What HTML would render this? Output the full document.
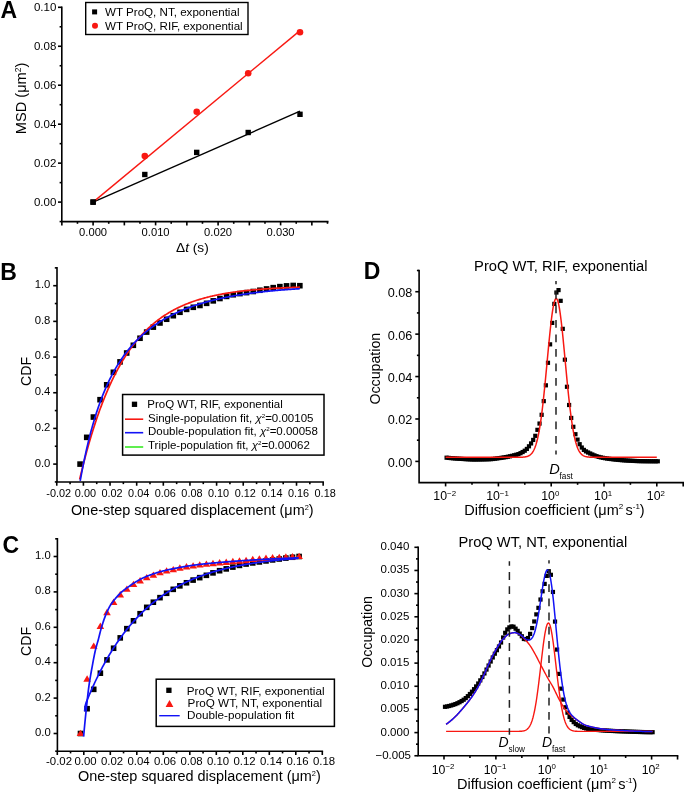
<!DOCTYPE html>
<html><head><meta charset="utf-8"><style>
html,body{margin:0;padding:0;background:#fff;overflow:hidden;}
svg{display:block;filter:blur(0.4px);}
text{font-family:"Liberation Sans", sans-serif;fill:#000;}
</style></head><body>
<svg width="685" height="793" viewBox="0 0 685 793">
<rect width="685" height="793" fill="#fff"/>
<path d="M61.80,7.30 L61.80,221.60 L327.70,221.60" fill="none" stroke="#000" stroke-width="1.6" stroke-linejoin="miter" stroke-linecap="square"/>
<line x1="58.00" y1="202.10" x2="61.80" y2="202.10" stroke="#000" stroke-width="1.6" />
<line x1="58.00" y1="163.14" x2="61.80" y2="163.14" stroke="#000" stroke-width="1.6" />
<line x1="58.00" y1="124.18" x2="61.80" y2="124.18" stroke="#000" stroke-width="1.6" />
<line x1="58.00" y1="85.22" x2="61.80" y2="85.22" stroke="#000" stroke-width="1.6" />
<line x1="58.00" y1="46.26" x2="61.80" y2="46.26" stroke="#000" stroke-width="1.6" />
<line x1="58.00" y1="7.30" x2="61.80" y2="7.30" stroke="#000" stroke-width="1.6" />
<line x1="59.60" y1="221.58" x2="61.80" y2="221.58" stroke="#000" stroke-width="1.6" />
<line x1="59.60" y1="182.62" x2="61.80" y2="182.62" stroke="#000" stroke-width="1.6" />
<line x1="59.60" y1="143.66" x2="61.80" y2="143.66" stroke="#000" stroke-width="1.6" />
<line x1="59.60" y1="104.70" x2="61.80" y2="104.70" stroke="#000" stroke-width="1.6" />
<line x1="59.60" y1="65.74" x2="61.80" y2="65.74" stroke="#000" stroke-width="1.6" />
<line x1="59.60" y1="26.78" x2="61.80" y2="26.78" stroke="#000" stroke-width="1.6" />
<text x="56.30" y="205.50" font-size="11.5" text-anchor="end" >0.00</text>
<text x="56.30" y="166.54" font-size="11.5" text-anchor="end" >0.02</text>
<text x="56.30" y="127.58" font-size="11.5" text-anchor="end" >0.04</text>
<text x="56.30" y="88.62" font-size="11.5" text-anchor="end" >0.06</text>
<text x="56.30" y="49.66" font-size="11.5" text-anchor="end" >0.08</text>
<text x="56.30" y="10.70" font-size="11.5" text-anchor="end" >0.10</text>
<line x1="61.85" y1="221.60" x2="61.85" y2="225.40" stroke="#000" stroke-width="1.6" />
<line x1="93.10" y1="221.60" x2="93.10" y2="225.40" stroke="#000" stroke-width="1.6" />
<line x1="124.35" y1="221.60" x2="124.35" y2="225.40" stroke="#000" stroke-width="1.6" />
<line x1="155.60" y1="221.60" x2="155.60" y2="225.40" stroke="#000" stroke-width="1.6" />
<line x1="186.85" y1="221.60" x2="186.85" y2="225.40" stroke="#000" stroke-width="1.6" />
<line x1="218.10" y1="221.60" x2="218.10" y2="225.40" stroke="#000" stroke-width="1.6" />
<line x1="249.35" y1="221.60" x2="249.35" y2="225.40" stroke="#000" stroke-width="1.6" />
<line x1="280.60" y1="221.60" x2="280.60" y2="225.40" stroke="#000" stroke-width="1.6" />
<line x1="311.85" y1="221.60" x2="311.85" y2="225.40" stroke="#000" stroke-width="1.6" />
<line x1="77.47" y1="221.60" x2="77.47" y2="223.80" stroke="#000" stroke-width="1.6" />
<line x1="108.72" y1="221.60" x2="108.72" y2="223.80" stroke="#000" stroke-width="1.6" />
<line x1="139.97" y1="221.60" x2="139.97" y2="223.80" stroke="#000" stroke-width="1.6" />
<line x1="171.22" y1="221.60" x2="171.22" y2="223.80" stroke="#000" stroke-width="1.6" />
<line x1="202.48" y1="221.60" x2="202.48" y2="223.80" stroke="#000" stroke-width="1.6" />
<line x1="233.73" y1="221.60" x2="233.73" y2="223.80" stroke="#000" stroke-width="1.6" />
<line x1="264.98" y1="221.60" x2="264.98" y2="223.80" stroke="#000" stroke-width="1.6" />
<line x1="296.23" y1="221.60" x2="296.23" y2="223.80" stroke="#000" stroke-width="1.6" />
<line x1="327.48" y1="221.60" x2="327.48" y2="223.80" stroke="#000" stroke-width="1.6" />
<text x="93.10" y="235.70" font-size="11.2" text-anchor="middle" >0.000</text>
<text x="155.60" y="235.70" font-size="11.2" text-anchor="middle" >0.010</text>
<text x="218.10" y="235.70" font-size="11.2" text-anchor="middle" >0.020</text>
<text x="280.60" y="235.70" font-size="11.2" text-anchor="middle" >0.030</text>
<text x="176.00" y="252.20" font-size="13.7" text-anchor="start" >Δ<tspan font-style="italic">t</tspan> (s)</text>
<text transform="translate(26.0,134.2) rotate(-90)" font-size="14.6">MSD (μm<tspan font-size="8.4" dy="-5">2</tspan><tspan dy="5">)</tspan></text>
<path d="M93.10,202.10 L300.00,111.20" fill="none" stroke="#000" stroke-width="1.4" stroke-linejoin="round" />
<path d="M93.10,202.10 L300.00,30.60" fill="none" stroke="#f81812" stroke-width="1.4" stroke-linejoin="round" />
<rect x="90.40" y="199.40" width="5.4" height="5.4" fill="#000"/>
<rect x="142.10" y="171.80" width="5.4" height="5.4" fill="#000"/>
<rect x="194.00" y="149.70" width="5.4" height="5.4" fill="#000"/>
<rect x="245.50" y="129.80" width="5.4" height="5.4" fill="#000"/>
<rect x="297.30" y="111.60" width="5.4" height="5.4" fill="#000"/>
<circle cx="144.80" cy="156.00" r="3.3" fill="#f81812"/>
<circle cx="196.70" cy="111.80" r="3.3" fill="#f81812"/>
<circle cx="248.20" cy="73.30" r="3.3" fill="#f81812"/>
<circle cx="300.00" cy="32.30" r="3.3" fill="#f81812"/>
<rect x="90.40" y="199.40" width="5.4" height="5.4" fill="#000"/>
<rect x="85.7" y="2.5" width="162.3" height="32" fill="#fff" stroke="#000" stroke-width="1.4"/>
<rect x="92.10" y="9.40" width="5.0" height="5.0" fill="#000"/>
<circle cx="95.00" cy="25.70" r="3.0" fill="#f81812"/>
<text x="105.00" y="15.90" font-size="11.6" text-anchor="start" >WT ProQ, NT, exponential</text>
<text x="105.00" y="29.60" font-size="11.6" text-anchor="start" >WT ProQ, RIF, exponential</text>
<text x="0.6" y="17.6" font-size="23" font-weight="bold">A</text>
<path d="M57.00,267.86 L57.00,481.94 L323.16,481.94" fill="none" stroke="#000" stroke-width="1.6" stroke-linejoin="miter" stroke-linecap="square"/>
<line x1="53.20" y1="464.10" x2="57.00" y2="464.10" stroke="#000" stroke-width="1.6" />
<line x1="53.20" y1="428.42" x2="57.00" y2="428.42" stroke="#000" stroke-width="1.6" />
<line x1="53.20" y1="392.74" x2="57.00" y2="392.74" stroke="#000" stroke-width="1.6" />
<line x1="53.20" y1="357.06" x2="57.00" y2="357.06" stroke="#000" stroke-width="1.6" />
<line x1="53.20" y1="321.38" x2="57.00" y2="321.38" stroke="#000" stroke-width="1.6" />
<line x1="53.20" y1="285.70" x2="57.00" y2="285.70" stroke="#000" stroke-width="1.6" />
<line x1="54.80" y1="481.94" x2="57.00" y2="481.94" stroke="#000" stroke-width="1.6" />
<line x1="54.80" y1="446.26" x2="57.00" y2="446.26" stroke="#000" stroke-width="1.6" />
<line x1="54.80" y1="410.58" x2="57.00" y2="410.58" stroke="#000" stroke-width="1.6" />
<line x1="54.80" y1="374.90" x2="57.00" y2="374.90" stroke="#000" stroke-width="1.6" />
<line x1="54.80" y1="339.22" x2="57.00" y2="339.22" stroke="#000" stroke-width="1.6" />
<line x1="54.80" y1="303.54" x2="57.00" y2="303.54" stroke="#000" stroke-width="1.6" />
<line x1="54.80" y1="267.86" x2="57.00" y2="267.86" stroke="#000" stroke-width="1.6" />
<text x="50.40" y="466.50" font-size="11.3" text-anchor="end" >0.0</text>
<text x="50.40" y="430.82" font-size="11.3" text-anchor="end" >0.2</text>
<text x="50.40" y="395.14" font-size="11.3" text-anchor="end" >0.4</text>
<text x="50.40" y="359.46" font-size="11.3" text-anchor="end" >0.6</text>
<text x="50.40" y="323.78" font-size="11.3" text-anchor="end" >0.8</text>
<text x="50.40" y="288.10" font-size="11.3" text-anchor="end" >1.0</text>
<line x1="56.76" y1="481.94" x2="56.76" y2="485.74" stroke="#000" stroke-width="1.6" />
<line x1="83.40" y1="481.94" x2="83.40" y2="485.74" stroke="#000" stroke-width="1.6" />
<line x1="110.04" y1="481.94" x2="110.04" y2="485.74" stroke="#000" stroke-width="1.6" />
<line x1="136.68" y1="481.94" x2="136.68" y2="485.74" stroke="#000" stroke-width="1.6" />
<line x1="163.32" y1="481.94" x2="163.32" y2="485.74" stroke="#000" stroke-width="1.6" />
<line x1="189.96" y1="481.94" x2="189.96" y2="485.74" stroke="#000" stroke-width="1.6" />
<line x1="216.60" y1="481.94" x2="216.60" y2="485.74" stroke="#000" stroke-width="1.6" />
<line x1="243.24" y1="481.94" x2="243.24" y2="485.74" stroke="#000" stroke-width="1.6" />
<line x1="269.88" y1="481.94" x2="269.88" y2="485.74" stroke="#000" stroke-width="1.6" />
<line x1="296.52" y1="481.94" x2="296.52" y2="485.74" stroke="#000" stroke-width="1.6" />
<line x1="323.16" y1="481.94" x2="323.16" y2="485.74" stroke="#000" stroke-width="1.6" />
<line x1="70.08" y1="481.94" x2="70.08" y2="484.14" stroke="#000" stroke-width="1.6" />
<line x1="96.72" y1="481.94" x2="96.72" y2="484.14" stroke="#000" stroke-width="1.6" />
<line x1="123.36" y1="481.94" x2="123.36" y2="484.14" stroke="#000" stroke-width="1.6" />
<line x1="150.00" y1="481.94" x2="150.00" y2="484.14" stroke="#000" stroke-width="1.6" />
<line x1="176.64" y1="481.94" x2="176.64" y2="484.14" stroke="#000" stroke-width="1.6" />
<line x1="203.28" y1="481.94" x2="203.28" y2="484.14" stroke="#000" stroke-width="1.6" />
<line x1="229.92" y1="481.94" x2="229.92" y2="484.14" stroke="#000" stroke-width="1.6" />
<line x1="256.56" y1="481.94" x2="256.56" y2="484.14" stroke="#000" stroke-width="1.6" />
<line x1="283.20" y1="481.94" x2="283.20" y2="484.14" stroke="#000" stroke-width="1.6" />
<line x1="309.84" y1="481.94" x2="309.84" y2="484.14" stroke="#000" stroke-width="1.6" />
<text x="58.76" y="497.24" font-size="10.9" text-anchor="middle" >-0.02</text>
<text x="85.40" y="497.24" font-size="10.9" text-anchor="middle" >0.00</text>
<text x="112.04" y="497.24" font-size="10.9" text-anchor="middle" >0.02</text>
<text x="138.68" y="497.24" font-size="10.9" text-anchor="middle" >0.04</text>
<text x="165.32" y="497.24" font-size="10.9" text-anchor="middle" >0.06</text>
<text x="191.96" y="497.24" font-size="10.9" text-anchor="middle" >0.08</text>
<text x="218.60" y="497.24" font-size="10.9" text-anchor="middle" >0.10</text>
<text x="245.24" y="497.24" font-size="10.9" text-anchor="middle" >0.12</text>
<text x="271.88" y="497.24" font-size="10.9" text-anchor="middle" >0.14</text>
<text x="298.52" y="497.24" font-size="10.9" text-anchor="middle" >0.16</text>
<text x="325.16" y="497.24" font-size="10.9" text-anchor="middle" >0.18</text>
<text x="70.9" y="514.6" font-size="14.45">One-step squared displacement (μm<tspan font-size="7.4" dy="-4.8">2</tspan><tspan dy="4.8">)</tspan></text>
<text transform="translate(31.0,371.40) rotate(-90)" font-size="14.2" text-anchor="middle">CDF</text>
<rect x="77.27" y="461.30" width="5.6" height="5.6" fill="#000"/>
<rect x="83.93" y="434.54" width="5.6" height="5.6" fill="#000"/>
<rect x="90.59" y="414.25" width="5.6" height="5.6" fill="#000"/>
<rect x="97.25" y="396.90" width="5.6" height="5.6" fill="#000"/>
<rect x="103.91" y="382.00" width="5.6" height="5.6" fill="#000"/>
<rect x="110.57" y="369.47" width="5.6" height="5.6" fill="#000"/>
<rect x="117.23" y="359.08" width="5.6" height="5.6" fill="#000"/>
<rect x="123.89" y="350.20" width="5.6" height="5.6" fill="#000"/>
<rect x="130.55" y="342.49" width="5.6" height="5.6" fill="#000"/>
<rect x="137.21" y="335.44" width="5.6" height="5.6" fill="#000"/>
<rect x="143.87" y="329.28" width="5.6" height="5.6" fill="#000"/>
<rect x="150.53" y="324.33" width="5.6" height="5.6" fill="#000"/>
<rect x="157.19" y="320.19" width="5.6" height="5.6" fill="#000"/>
<rect x="163.85" y="316.44" width="5.6" height="5.6" fill="#000"/>
<rect x="170.51" y="312.92" width="5.6" height="5.6" fill="#000"/>
<rect x="177.17" y="309.48" width="5.6" height="5.6" fill="#000"/>
<rect x="183.83" y="306.58" width="5.6" height="5.6" fill="#000"/>
<rect x="190.49" y="304.49" width="5.6" height="5.6" fill="#000"/>
<rect x="197.15" y="302.66" width="5.6" height="5.6" fill="#000"/>
<rect x="203.81" y="300.52" width="5.6" height="5.6" fill="#000"/>
<rect x="210.47" y="298.06" width="5.6" height="5.6" fill="#000"/>
<rect x="217.13" y="295.70" width="5.6" height="5.6" fill="#000"/>
<rect x="223.79" y="293.60" width="5.6" height="5.6" fill="#000"/>
<rect x="230.45" y="291.95" width="5.6" height="5.6" fill="#000"/>
<rect x="237.11" y="290.79" width="5.6" height="5.6" fill="#000"/>
<rect x="243.77" y="289.81" width="5.6" height="5.6" fill="#000"/>
<rect x="250.43" y="288.70" width="5.6" height="5.6" fill="#000"/>
<rect x="257.09" y="287.45" width="5.6" height="5.6" fill="#000"/>
<rect x="263.75" y="286.16" width="5.6" height="5.6" fill="#000"/>
<rect x="270.41" y="284.86" width="5.6" height="5.6" fill="#000"/>
<rect x="277.07" y="283.84" width="5.6" height="5.6" fill="#000"/>
<rect x="283.73" y="283.08" width="5.6" height="5.6" fill="#000"/>
<rect x="290.39" y="282.68" width="5.6" height="5.6" fill="#000"/>
<rect x="297.05" y="282.90" width="5.6" height="5.6" fill="#000"/>
<path d="M79.67,479.41 L80.41,476.29 L81.14,473.22 L81.88,470.19 L82.62,467.22 L83.35,464.29 L84.09,461.41 L84.83,458.57 L85.56,455.79 L86.30,453.04 L87.03,450.34 L87.77,447.69 L88.51,445.08 L89.24,442.50 L89.98,439.98 L90.72,437.49 L91.45,435.04 L92.19,432.63 L92.93,430.26 L93.66,427.93 L94.40,425.64 L95.13,423.38 L95.87,421.16 L96.61,418.97 L97.34,416.82 L98.08,414.71 L98.82,412.63 L99.55,410.58 L100.29,408.57 L101.03,406.58 L101.76,404.64 L102.50,402.72 L103.23,400.83 L103.97,398.97 L104.71,397.15 L105.44,395.35 L106.18,393.58 L106.92,391.84 L107.65,390.13 L108.39,388.44 L109.13,386.79 L109.86,385.16 L110.60,383.55 L111.34,381.97 L112.07,380.42 L112.81,378.89 L113.54,377.39 L114.28,375.91 L115.02,374.46 L115.75,373.03 L116.49,371.62 L117.23,370.23 L117.96,368.87 L118.70,367.53 L119.44,366.21 L120.17,364.91 L120.91,363.63 L121.64,362.37 L122.38,361.14 L123.12,359.92 L123.85,358.72 L124.59,357.55 L125.33,356.39 L126.06,355.25 L126.80,354.12 L127.54,353.02 L128.27,351.94 L129.01,350.87 L129.74,349.82 L130.48,348.78 L131.22,347.76 L131.95,346.76 L132.69,345.78 L133.43,344.81 L134.16,343.86 L134.90,342.92 L135.64,342.00 L136.37,341.09 L137.11,340.19 L137.84,339.32 L138.58,338.45 L139.32,337.60 L140.05,336.76 L140.79,335.94 L141.53,335.13 L142.26,334.33 L143.00,333.55 L143.74,332.78 L144.47,332.02 L145.21,331.27 L145.95,330.53 L146.68,329.81 L147.42,329.10 L148.15,328.40 L148.89,327.71 L149.63,327.03 L150.36,326.37 L151.10,325.71 L151.84,325.07 L152.57,324.43 L153.31,323.81 L154.05,323.19 L154.78,322.59 L155.52,321.99 L156.25,321.41 L156.99,320.83 L157.73,320.26 L158.46,319.71 L159.20,319.16 L159.94,318.62 L160.67,318.09 L161.41,317.57 L162.15,317.05 L162.88,316.55 L163.62,316.05 L164.35,315.56 L165.09,315.08 L165.83,314.60 L166.56,314.14 L167.30,313.68 L168.04,313.23 L168.77,312.78 L169.51,312.35 L170.25,311.92 L170.98,311.49 L171.72,311.08 L172.46,310.67 L173.19,310.27 L173.93,309.87 L174.66,309.48 L175.40,309.10 L176.14,308.72 L176.87,308.35 L177.61,307.98 L178.35,307.62 L179.08,307.27 L179.82,306.92 L180.56,306.58 L181.29,306.24 L182.03,305.91 L182.76,305.59 L183.50,305.26 L184.24,304.95 L184.97,304.64 L185.71,304.33 L186.45,304.03 L187.18,303.74 L187.92,303.45 L188.66,303.16 L189.39,302.88 L190.13,302.60 L190.86,302.33 L191.60,302.06 L192.34,301.80 L193.07,301.54 L193.81,301.28 L194.55,301.03 L195.28,300.78 L196.02,300.54 L196.76,300.30 L197.49,300.06 L198.23,299.83 L198.97,299.60 L199.70,299.38 L200.44,299.16 L201.17,298.94 L201.91,298.73 L202.65,298.52 L203.38,298.31 L204.12,298.11 L204.86,297.91 L205.59,297.71 L206.33,297.52 L207.07,297.33 L207.80,297.14 L208.54,296.96 L209.27,296.77 L210.01,296.60 L210.75,296.42 L211.48,296.25 L212.22,296.08 L212.96,295.91 L213.69,295.74 L214.43,295.58 L215.17,295.42 L215.90,295.27 L216.64,295.11 L217.37,294.96 L218.11,294.81 L218.85,294.66 L219.58,294.52 L220.32,294.38 L221.06,294.24 L221.79,294.10 L222.53,293.96 L223.27,293.83 L224.00,293.70 L224.74,293.57 L225.47,293.44 L226.21,293.32 L226.95,293.20 L227.68,293.08 L228.42,292.96 L229.16,292.84 L229.89,292.72 L230.63,292.61 L231.37,292.50 L232.10,292.39 L232.84,292.28 L233.58,292.18 L234.31,292.07 L235.05,291.97 L235.78,291.87 L236.52,291.77 L237.26,291.67 L237.99,291.57 L238.73,291.48 L239.47,291.39 L240.20,291.29 L240.94,291.20 L241.68,291.11 L242.41,291.03 L243.15,290.94 L243.88,290.86 L244.62,290.77 L245.36,290.69 L246.09,290.61 L246.83,290.53 L247.57,290.45 L248.30,290.38 L249.04,290.30 L249.78,290.23 L250.51,290.16 L251.25,290.08 L251.98,290.01 L252.72,289.94 L253.46,289.87 L254.19,289.81 L254.93,289.74 L255.67,289.68 L256.40,289.61 L257.14,289.55 L257.88,289.49 L258.61,289.43 L259.35,289.37 L260.09,289.31 L260.82,289.25 L261.56,289.19 L262.29,289.13 L263.03,289.08 L263.77,289.02 L264.50,288.97 L265.24,288.92 L265.98,288.87 L266.71,288.82 L267.45,288.77 L268.19,288.72 L268.92,288.67 L269.66,288.62 L270.39,288.57 L271.13,288.53 L271.87,288.48 L272.60,288.44 L273.34,288.39 L274.08,288.35 L274.81,288.31 L275.55,288.26 L276.29,288.22 L277.02,288.18 L277.76,288.14 L278.49,288.10 L279.23,288.06 L279.97,288.02 L280.70,287.99 L281.44,287.95 L282.18,287.91 L282.91,287.88 L283.65,287.84 L284.39,287.81 L285.12,287.77 L285.86,287.74 L286.60,287.71 L287.33,287.68 L288.07,287.64 L288.80,287.61 L289.54,287.58 L290.28,287.55 L291.01,287.52 L291.75,287.49 L292.49,287.46 L293.22,287.43 L293.96,287.41 L294.70,287.38 L295.43,287.35 L296.17,287.33 L296.90,287.30 L297.64,287.27 L298.38,287.25 L299.11,287.22 L299.85,287.20" fill="none" stroke="#f81812" stroke-width="1.7" stroke-linejoin="round" />
<path d="M80.20,480.90 L80.94,476.85 L81.67,472.92 L82.41,469.10 L83.14,465.38 L83.88,461.77 L84.61,458.25 L85.35,454.84 L86.08,451.51 L86.81,448.27 L87.55,445.12 L88.28,442.05 L89.02,439.07 L89.75,436.16 L90.49,433.33 L91.22,430.57 L91.96,427.88 L92.69,425.26 L93.43,422.70 L94.16,420.22 L94.90,417.79 L95.63,415.42 L96.36,413.11 L97.10,410.86 L97.83,408.66 L98.57,406.52 L99.30,404.42 L100.04,402.38 L100.77,400.39 L101.51,398.44 L102.24,396.53 L102.98,394.67 L103.71,392.86 L104.45,391.08 L105.18,389.35 L105.91,387.65 L106.65,385.99 L107.38,384.37 L108.12,382.78 L108.85,381.23 L109.59,379.71 L110.32,378.23 L111.06,376.77 L111.79,375.35 L112.53,373.95 L113.26,372.59 L114.00,371.25 L114.73,369.94 L115.46,368.66 L116.20,367.40 L116.93,366.17 L117.67,364.96 L118.40,363.78 L119.14,362.62 L119.87,361.48 L120.61,360.36 L121.34,359.27 L122.08,358.19 L122.81,357.14 L123.54,356.10 L124.28,355.09 L125.01,354.09 L125.75,353.11 L126.48,352.15 L127.22,351.21 L127.95,350.29 L128.69,349.38 L129.42,348.48 L130.16,347.60 L130.89,346.74 L131.63,345.89 L132.36,345.06 L133.09,344.24 L133.83,343.44 L134.56,342.65 L135.30,341.87 L136.03,341.10 L136.77,340.35 L137.50,339.61 L138.24,338.88 L138.97,338.17 L139.71,337.46 L140.44,336.77 L141.18,336.08 L141.91,335.41 L142.64,334.75 L143.38,334.10 L144.11,333.46 L144.85,332.83 L145.58,332.21 L146.32,331.60 L147.05,331.00 L147.79,330.40 L148.52,329.82 L149.26,329.24 L149.99,328.68 L150.73,328.12 L151.46,327.57 L152.19,327.03 L152.93,326.49 L153.66,325.97 L154.40,325.45 L155.13,324.94 L155.87,324.43 L156.60,323.94 L157.34,323.45 L158.07,322.97 L158.81,322.49 L159.54,322.02 L160.28,321.56 L161.01,321.10 L161.74,320.65 L162.48,320.21 L163.21,319.77 L163.95,319.34 L164.68,318.92 L165.42,318.50 L166.15,318.08 L166.89,317.68 L167.62,317.27 L168.36,316.88 L169.09,316.48 L169.82,316.10 L170.56,315.72 L171.29,315.34 L172.03,314.97 L172.76,314.60 L173.50,314.24 L174.23,313.88 L174.97,313.53 L175.70,313.18 L176.44,312.84 L177.17,312.50 L177.91,312.17 L178.64,311.84 L179.37,311.51 L180.11,311.19 L180.84,310.87 L181.58,310.56 L182.31,310.25 L183.05,309.94 L183.78,309.64 L184.52,309.35 L185.25,309.05 L185.99,308.76 L186.72,308.48 L187.46,308.19 L188.19,307.91 L188.92,307.64 L189.66,307.37 L190.39,307.10 L191.13,306.83 L191.86,306.57 L192.60,306.31 L193.33,306.05 L194.07,305.80 L194.80,305.55 L195.54,305.31 L196.27,305.06 L197.01,304.82 L197.74,304.59 L198.47,304.35 L199.21,304.12 L199.94,303.89 L200.68,303.67 L201.41,303.44 L202.15,303.22 L202.88,303.01 L203.62,302.79 L204.35,302.58 L205.09,302.37 L205.82,302.16 L206.56,301.96 L207.29,301.76 L208.02,301.56 L208.76,301.36 L209.49,301.16 L210.23,300.97 L210.96,300.78 L211.70,300.59 L212.43,300.41 L213.17,300.22 L213.90,300.04 L214.64,299.87 L215.37,299.69 L216.11,299.51 L216.84,299.34 L217.57,299.17 L218.31,299.00 L219.04,298.84 L219.78,298.67 L220.51,298.51 L221.25,298.35 L221.98,298.19 L222.72,298.03 L223.45,297.88 L224.19,297.73 L224.92,297.58 L225.65,297.43 L226.39,297.28 L227.12,297.13 L227.86,296.99 L228.59,296.85 L229.33,296.71 L230.06,296.57 L230.80,296.43 L231.53,296.29 L232.27,296.16 L233.00,296.03 L233.74,295.90 L234.47,295.77 L235.20,295.64 L235.94,295.51 L236.67,295.39 L237.41,295.27 L238.14,295.15 L238.88,295.02 L239.61,294.91 L240.35,294.79 L241.08,294.67 L241.82,294.56 L242.55,294.44 L243.29,294.33 L244.02,294.22 L244.75,294.11 L245.49,294.00 L246.22,293.90 L246.96,293.79 L247.69,293.69 L248.43,293.59 L249.16,293.48 L249.90,293.38 L250.63,293.28 L251.37,293.19 L252.10,293.09 L252.84,292.99 L253.57,292.90 L254.30,292.80 L255.04,292.71 L255.77,292.62 L256.51,292.53 L257.24,292.44 L257.98,292.35 L258.71,292.26 L259.45,292.18 L260.18,292.09 L260.92,292.01 L261.65,291.93 L262.39,291.84 L263.12,291.76 L263.85,291.68 L264.59,291.60 L265.32,291.52 L266.06,291.45 L266.79,291.37 L267.53,291.29 L268.26,291.22 L269.00,291.15 L269.73,291.07 L270.47,291.00 L271.20,290.93 L271.94,290.86 L272.67,290.79 L273.40,290.72 L274.14,290.65 L274.87,290.59 L275.61,290.52 L276.34,290.45 L277.08,290.39 L277.81,290.32 L278.55,290.26 L279.28,290.20 L280.02,290.14 L280.75,290.08 L281.48,290.01 L282.22,289.96 L282.95,289.90 L283.69,289.84 L284.42,289.78 L285.16,289.72 L285.89,289.67 L286.63,289.61 L287.36,289.56 L288.10,289.50 L288.83,289.45 L289.57,289.40 L290.30,289.34 L291.03,289.29 L291.77,289.24 L292.50,289.19 L293.24,289.14 L293.97,289.09 L294.71,289.04 L295.44,288.99 L296.18,288.95 L296.91,288.90 L297.65,288.85 L298.38,288.81 L299.12,288.76 L299.85,288.71" fill="none" stroke="#1212f6" stroke-width="1.7" stroke-linejoin="round" />
<rect x="122.6" y="394.5" width="201.4" height="60.6" fill="#fff" stroke="#000" stroke-width="1.5"/>
<rect x="131.85" y="401.65" width="5.3" height="5.3" fill="#000"/>
<line x1="125.00" y1="419.20" x2="143.20" y2="419.20" stroke="#f81812" stroke-width="1.6" />
<line x1="125.00" y1="432.70" x2="143.20" y2="432.70" stroke="#1212f6" stroke-width="1.6" />
<line x1="125.00" y1="447.00" x2="143.20" y2="447.00" stroke="#38ea24" stroke-width="1.6" />
<text x="147.30" y="408.00" font-size="11.5" text-anchor="start" >ProQ WT, RIF, exponential</text>
<text x="148.00" y="421.50" font-size="11.5" text-anchor="start" >Single-population fit, <tspan font-style="italic">χ</tspan><tspan font-size="6.2" dy="-3.6">2</tspan><tspan dy="3.6">=0.00105</tspan></text>
<text x="148.00" y="435.00" font-size="11.5" text-anchor="start" >Double-population fit, <tspan font-style="italic">χ</tspan><tspan font-size="6.2" dy="-3.6">2</tspan><tspan dy="3.6">=0.00058</tspan></text>
<text x="148.00" y="448.80" font-size="11.5" text-anchor="start" >Triple-population fit, <tspan font-style="italic">χ</tspan><tspan font-size="6.2" dy="-3.6">2</tspan><tspan dy="3.6">=0.00062</tspan></text>
<text x="0.2" y="280.3" font-size="23" font-weight="bold">B</text>
<path d="M57.40,538.80 L57.40,751.20 L322.30,751.20" fill="none" stroke="#000" stroke-width="1.6" stroke-linejoin="miter" stroke-linecap="square"/>
<line x1="53.60" y1="733.50" x2="57.40" y2="733.50" stroke="#000" stroke-width="1.6" />
<line x1="53.60" y1="698.10" x2="57.40" y2="698.10" stroke="#000" stroke-width="1.6" />
<line x1="53.60" y1="662.70" x2="57.40" y2="662.70" stroke="#000" stroke-width="1.6" />
<line x1="53.60" y1="627.30" x2="57.40" y2="627.30" stroke="#000" stroke-width="1.6" />
<line x1="53.60" y1="591.90" x2="57.40" y2="591.90" stroke="#000" stroke-width="1.6" />
<line x1="53.60" y1="556.50" x2="57.40" y2="556.50" stroke="#000" stroke-width="1.6" />
<line x1="55.20" y1="751.20" x2="57.40" y2="751.20" stroke="#000" stroke-width="1.6" />
<line x1="55.20" y1="715.80" x2="57.40" y2="715.80" stroke="#000" stroke-width="1.6" />
<line x1="55.20" y1="680.40" x2="57.40" y2="680.40" stroke="#000" stroke-width="1.6" />
<line x1="55.20" y1="645.00" x2="57.40" y2="645.00" stroke="#000" stroke-width="1.6" />
<line x1="55.20" y1="609.60" x2="57.40" y2="609.60" stroke="#000" stroke-width="1.6" />
<line x1="55.20" y1="574.20" x2="57.40" y2="574.20" stroke="#000" stroke-width="1.6" />
<line x1="55.20" y1="538.80" x2="57.40" y2="538.80" stroke="#000" stroke-width="1.6" />
<text x="50.80" y="735.90" font-size="11.3" text-anchor="end" >0.0</text>
<text x="50.80" y="700.50" font-size="11.3" text-anchor="end" >0.2</text>
<text x="50.80" y="665.10" font-size="11.3" text-anchor="end" >0.4</text>
<text x="50.80" y="629.70" font-size="11.3" text-anchor="end" >0.6</text>
<text x="50.80" y="594.30" font-size="11.3" text-anchor="end" >0.8</text>
<text x="50.80" y="558.90" font-size="11.3" text-anchor="end" >1.0</text>
<line x1="57.30" y1="751.20" x2="57.30" y2="755.00" stroke="#000" stroke-width="1.6" />
<line x1="83.80" y1="751.20" x2="83.80" y2="755.00" stroke="#000" stroke-width="1.6" />
<line x1="110.30" y1="751.20" x2="110.30" y2="755.00" stroke="#000" stroke-width="1.6" />
<line x1="136.80" y1="751.20" x2="136.80" y2="755.00" stroke="#000" stroke-width="1.6" />
<line x1="163.30" y1="751.20" x2="163.30" y2="755.00" stroke="#000" stroke-width="1.6" />
<line x1="189.80" y1="751.20" x2="189.80" y2="755.00" stroke="#000" stroke-width="1.6" />
<line x1="216.30" y1="751.20" x2="216.30" y2="755.00" stroke="#000" stroke-width="1.6" />
<line x1="242.80" y1="751.20" x2="242.80" y2="755.00" stroke="#000" stroke-width="1.6" />
<line x1="269.30" y1="751.20" x2="269.30" y2="755.00" stroke="#000" stroke-width="1.6" />
<line x1="295.80" y1="751.20" x2="295.80" y2="755.00" stroke="#000" stroke-width="1.6" />
<line x1="322.30" y1="751.20" x2="322.30" y2="755.00" stroke="#000" stroke-width="1.6" />
<line x1="70.55" y1="751.20" x2="70.55" y2="753.40" stroke="#000" stroke-width="1.6" />
<line x1="97.05" y1="751.20" x2="97.05" y2="753.40" stroke="#000" stroke-width="1.6" />
<line x1="123.55" y1="751.20" x2="123.55" y2="753.40" stroke="#000" stroke-width="1.6" />
<line x1="150.05" y1="751.20" x2="150.05" y2="753.40" stroke="#000" stroke-width="1.6" />
<line x1="176.55" y1="751.20" x2="176.55" y2="753.40" stroke="#000" stroke-width="1.6" />
<line x1="203.05" y1="751.20" x2="203.05" y2="753.40" stroke="#000" stroke-width="1.6" />
<line x1="229.55" y1="751.20" x2="229.55" y2="753.40" stroke="#000" stroke-width="1.6" />
<line x1="256.05" y1="751.20" x2="256.05" y2="753.40" stroke="#000" stroke-width="1.6" />
<line x1="282.55" y1="751.20" x2="282.55" y2="753.40" stroke="#000" stroke-width="1.6" />
<line x1="309.05" y1="751.20" x2="309.05" y2="753.40" stroke="#000" stroke-width="1.6" />
<text x="59.00" y="765.40" font-size="11.4" text-anchor="middle" >-0.02</text>
<text x="85.50" y="765.40" font-size="11.4" text-anchor="middle" >0.00</text>
<text x="112.00" y="765.40" font-size="11.4" text-anchor="middle" >0.02</text>
<text x="138.50" y="765.40" font-size="11.4" text-anchor="middle" >0.04</text>
<text x="165.00" y="765.40" font-size="11.4" text-anchor="middle" >0.06</text>
<text x="191.50" y="765.40" font-size="11.4" text-anchor="middle" >0.08</text>
<text x="218.00" y="765.40" font-size="11.4" text-anchor="middle" >0.10</text>
<text x="244.50" y="765.40" font-size="11.4" text-anchor="middle" >0.12</text>
<text x="271.00" y="765.40" font-size="11.4" text-anchor="middle" >0.14</text>
<text x="297.50" y="765.40" font-size="11.4" text-anchor="middle" >0.16</text>
<text x="324.00" y="765.40" font-size="11.4" text-anchor="middle" >0.18</text>
<text x="78.0" y="780.7" font-size="14.45">One-step squared displacement (μm<tspan font-size="7.4" dy="-4.8">2</tspan><tspan dy="4.8">)</tspan></text>
<text transform="translate(30.5,641.50) rotate(-90)" font-size="14.2" text-anchor="middle">CDF</text>
<rect x="77.69" y="730.70" width="5.6" height="5.6" fill="#000"/>
<rect x="84.31" y="705.92" width="5.6" height="5.6" fill="#000"/>
<rect x="90.94" y="686.54" width="5.6" height="5.6" fill="#000"/>
<rect x="97.56" y="670.39" width="5.6" height="5.6" fill="#000"/>
<rect x="104.19" y="657.07" width="5.6" height="5.6" fill="#000"/>
<rect x="110.81" y="645.43" width="5.6" height="5.6" fill="#000"/>
<rect x="117.44" y="635.08" width="5.6" height="5.6" fill="#000"/>
<rect x="124.06" y="625.87" width="5.6" height="5.6" fill="#000"/>
<rect x="130.69" y="618.00" width="5.6" height="5.6" fill="#000"/>
<rect x="137.31" y="610.92" width="5.6" height="5.6" fill="#000"/>
<rect x="143.94" y="604.54" width="5.6" height="5.6" fill="#000"/>
<rect x="150.56" y="599.41" width="5.6" height="5.6" fill="#000"/>
<rect x="157.19" y="594.85" width="5.6" height="5.6" fill="#000"/>
<rect x="163.81" y="590.47" width="5.6" height="5.6" fill="#000"/>
<rect x="170.44" y="586.53" width="5.6" height="5.6" fill="#000"/>
<rect x="177.06" y="583.04" width="5.6" height="5.6" fill="#000"/>
<rect x="183.69" y="579.98" width="5.6" height="5.6" fill="#000"/>
<rect x="190.31" y="577.29" width="5.6" height="5.6" fill="#000"/>
<rect x="196.94" y="574.85" width="5.6" height="5.6" fill="#000"/>
<rect x="203.56" y="572.51" width="5.6" height="5.6" fill="#000"/>
<rect x="210.19" y="570.07" width="5.6" height="5.6" fill="#000"/>
<rect x="216.81" y="567.90" width="5.6" height="5.6" fill="#000"/>
<rect x="223.44" y="566.09" width="5.6" height="5.6" fill="#000"/>
<rect x="230.06" y="564.28" width="5.6" height="5.6" fill="#000"/>
<rect x="236.69" y="562.59" width="5.6" height="5.6" fill="#000"/>
<rect x="243.31" y="561.22" width="5.6" height="5.6" fill="#000"/>
<rect x="249.94" y="560.12" width="5.6" height="5.6" fill="#000"/>
<rect x="256.56" y="559.14" width="5.6" height="5.6" fill="#000"/>
<rect x="263.19" y="558.12" width="5.6" height="5.6" fill="#000"/>
<rect x="269.81" y="557.11" width="5.6" height="5.6" fill="#000"/>
<rect x="276.44" y="556.18" width="5.6" height="5.6" fill="#000"/>
<rect x="283.06" y="555.29" width="5.6" height="5.6" fill="#000"/>
<rect x="289.69" y="554.45" width="5.6" height="5.6" fill="#000"/>
<rect x="296.31" y="553.70" width="5.6" height="5.6" fill="#000"/>
<path d="M80.49,729.66 L84.29,736.06 L76.69,736.06 Z" fill="#f81812"/>
<path d="M87.11,675.32 L90.91,681.72 L83.31,681.72 Z" fill="#f81812"/>
<path d="M93.74,642.40 L97.54,648.80 L89.94,648.80 Z" fill="#f81812"/>
<path d="M100.36,622.57 L104.16,628.97 L96.56,628.97 Z" fill="#f81812"/>
<path d="M106.99,608.77 L110.79,615.17 L103.19,615.17 Z" fill="#f81812"/>
<path d="M113.61,598.50 L117.41,604.90 L109.81,604.90 Z" fill="#f81812"/>
<path d="M120.24,591.07 L124.04,597.47 L116.44,597.47 Z" fill="#f81812"/>
<path d="M126.86,585.40 L130.66,591.80 L123.06,591.80 Z" fill="#f81812"/>
<path d="M133.49,580.63 L137.29,587.03 L129.69,587.03 Z" fill="#f81812"/>
<path d="M140.11,577.09 L143.91,583.49 L136.31,583.49 Z" fill="#f81812"/>
<path d="M146.74,573.90 L150.54,580.30 L142.94,580.30 Z" fill="#f81812"/>
<path d="M153.36,571.42 L157.16,577.82 L149.56,577.82 Z" fill="#f81812"/>
<path d="M159.99,568.94 L163.79,575.34 L156.19,575.34 Z" fill="#f81812"/>
<path d="M166.61,567.17 L170.41,573.57 L162.81,573.57 Z" fill="#f81812"/>
<path d="M173.24,565.93 L177.04,572.33 L169.44,572.33 Z" fill="#f81812"/>
<path d="M179.86,564.34 L183.66,570.74 L176.06,570.74 Z" fill="#f81812"/>
<path d="M186.49,563.10 L190.29,569.50 L182.69,569.50 Z" fill="#f81812"/>
<path d="M193.11,562.22 L196.91,568.62 L189.31,568.62 Z" fill="#f81812"/>
<path d="M199.74,561.16 L203.54,567.56 L195.94,567.56 Z" fill="#f81812"/>
<path d="M206.36,560.45 L210.16,566.85 L202.56,566.85 Z" fill="#f81812"/>
<path d="M212.99,559.74 L216.79,566.14 L209.19,566.14 Z" fill="#f81812"/>
<path d="M219.61,559.03 L223.41,565.43 L215.81,565.43 Z" fill="#f81812"/>
<path d="M226.24,558.50 L230.04,564.90 L222.44,564.90 Z" fill="#f81812"/>
<path d="M232.86,557.79 L236.66,564.19 L229.06,564.19 Z" fill="#f81812"/>
<path d="M239.49,557.26 L243.29,563.66 L235.69,563.66 Z" fill="#f81812"/>
<path d="M246.11,556.73 L249.91,563.13 L242.31,563.13 Z" fill="#f81812"/>
<path d="M252.74,555.67 L256.54,562.07 L248.94,562.07 Z" fill="#f81812"/>
<path d="M259.36,555.14 L263.16,561.54 L255.56,561.54 Z" fill="#f81812"/>
<path d="M265.99,554.61 L269.79,561.01 L262.19,561.01 Z" fill="#f81812"/>
<path d="M272.61,554.08 L276.41,560.48 L268.81,560.48 Z" fill="#f81812"/>
<path d="M279.24,553.72 L283.04,560.12 L275.44,560.12 Z" fill="#f81812"/>
<path d="M285.86,553.37 L289.66,559.77 L282.06,559.77 Z" fill="#f81812"/>
<path d="M292.49,553.01 L296.29,559.41 L288.69,559.41 Z" fill="#f81812"/>
<path d="M299.11,552.66 L302.91,559.06 L295.31,559.06 Z" fill="#f81812"/>
<path d="M83.60,736.60 L84.14,730.74 L84.68,725.03 L85.22,719.50 L85.76,714.17 L86.30,709.00 L86.84,703.88 L87.38,698.88 L87.91,694.11 L88.45,689.66 L88.99,685.63 L89.53,681.96 L90.07,678.55 L90.61,675.33 L91.15,672.25 L91.69,669.26 L92.23,666.29 L92.77,663.33 L93.31,660.41 L93.85,657.57 L94.39,654.85 L94.93,652.27 L95.47,649.87 L96.01,647.69 L96.54,645.72 L97.08,643.87 L97.62,642.05 L98.16,640.17 L98.70,638.15 L99.24,635.99 L99.78,633.80 L100.32,631.64 L100.86,629.60 L101.40,627.72 L101.94,625.90 L102.48,624.15 L103.02,622.47 L103.56,620.86 L104.10,619.31 L104.63,617.84 L105.17,616.42 L105.71,615.06 L106.25,613.76 L106.79,612.50 L107.33,611.28 L107.87,610.09 L108.41,608.93 L108.95,607.82 L109.49,606.78 L110.03,605.82 L110.57,604.94 L111.11,604.13 L111.65,603.35 L112.19,602.62 L112.72,601.91 L113.26,601.21 L113.80,600.52 L114.34,599.84 L114.88,599.17 L115.42,598.51 L115.96,597.87 L116.50,597.24 L117.04,596.63 L117.58,596.03 L118.12,595.45 L118.66,594.88 L119.20,594.32 L119.74,593.77 L120.28,593.24 L120.82,592.73 L121.35,592.23 L121.89,591.75 L122.43,591.29 L122.97,590.84 L123.51,590.41 L124.05,589.98 L124.59,589.56 L125.13,589.15 L125.67,588.75 L126.21,588.36 L126.75,587.97 L127.29,587.59 L127.83,587.22 L128.37,586.84 L128.91,586.47 L129.44,586.08 L129.98,585.70 L130.52,585.31 L131.06,584.92 L131.60,584.53 L132.14,584.16 L132.68,583.79 L133.22,583.44 L133.76,583.10 L134.30,582.77 L134.84,582.45 L135.38,582.13 L135.92,581.81 L136.46,581.49 L137.00,581.18 L137.53,580.87 L138.07,580.57 L138.61,580.27 L139.15,579.97 L139.69,579.68 L140.23,579.39 L140.77,579.11 L141.31,578.83 L141.85,578.56 L142.39,578.29 L142.93,578.03 L143.47,577.77 L144.01,577.52 L144.55,577.27 L145.09,577.03 L145.63,576.80 L146.16,576.57 L146.70,576.35 L147.24,576.13 L147.78,575.91 L148.32,575.70 L148.86,575.49 L149.40,575.28 L149.94,575.08 L150.48,574.87 L151.02,574.68 L151.56,574.48 L152.10,574.29 L152.64,574.10 L153.18,573.91 L153.72,573.73 L154.25,573.55 L154.79,573.37 L155.33,573.19 L155.87,573.02 L156.41,572.85 L156.95,572.68 L157.49,572.52 L158.03,572.36 L158.57,572.20 L159.11,572.04 L159.65,571.89 L160.19,571.74 L160.73,571.59 L161.27,571.45 L161.81,571.30 L162.34,571.16 L162.88,571.02 L163.42,570.89 L163.96,570.75 L164.50,570.62 L165.04,570.49 L165.58,570.36 L166.12,570.23 L166.66,570.11 L167.20,569.99 L167.74,569.87 L168.28,569.75 L168.82,569.63 L169.36,569.51 L169.90,569.39 L170.44,569.28 L170.97,569.17 L171.51,569.06 L172.05,568.94 L172.59,568.84 L173.13,568.73 L173.67,568.62 L174.21,568.51 L174.75,568.41 L175.29,568.30 L175.83,568.20 L176.37,568.09 L176.91,567.99 L177.45,567.89 L177.99,567.78 L178.53,567.68 L179.06,567.58 L179.60,567.48 L180.14,567.38 L180.68,567.28 L181.22,567.18 L181.76,567.08 L182.30,566.98 L182.84,566.89 L183.38,566.79 L183.92,566.70 L184.46,566.60 L185.00,566.51 L185.54,566.42 L186.08,566.33 L186.62,566.24 L187.15,566.15 L187.69,566.06 L188.23,565.97 L188.77,565.89 L189.31,565.80 L189.85,565.72 L190.39,565.64 L190.93,565.56 L191.47,565.48 L192.01,565.40 L192.55,565.33 L193.09,565.25 L193.63,565.18 L194.17,565.11 L194.71,565.04 L195.25,564.97 L195.78,564.90 L196.32,564.84 L196.86,564.77 L197.40,564.70 L197.94,564.64 L198.48,564.57 L199.02,564.51 L199.56,564.45 L200.10,564.38 L200.64,564.32 L201.18,564.26 L201.72,564.20 L202.26,564.14 L202.80,564.08 L203.34,564.02 L203.87,563.96 L204.41,563.91 L204.95,563.85 L205.49,563.79 L206.03,563.73 L206.57,563.68 L207.11,563.62 L207.65,563.57 L208.19,563.51 L208.73,563.46 L209.27,563.40 L209.81,563.35 L210.35,563.30 L210.89,563.25 L211.43,563.19 L211.96,563.14 L212.50,563.09 L213.04,563.04 L213.58,562.99 L214.12,562.94 L214.66,562.89 L215.20,562.84 L215.74,562.79 L216.28,562.74 L216.82,562.69 L217.36,562.65 L217.90,562.60 L218.44,562.55 L218.98,562.51 L219.52,562.46 L220.06,562.41 L220.59,562.37 L221.13,562.32 L221.67,562.27 L222.21,562.23 L222.75,562.18 L223.29,562.14 L223.83,562.09 L224.37,562.05 L224.91,562.01 L225.45,561.96 L225.99,561.92 L226.53,561.88 L227.07,561.83 L227.61,561.79 L228.15,561.75 L228.68,561.70 L229.22,561.66 L229.76,561.62 L230.30,561.58 L230.84,561.53 L231.38,561.49 L231.92,561.45 L232.46,561.41 L233.00,561.37 L233.54,561.33 L234.08,561.29 L234.62,561.25 L235.16,561.21 L235.70,561.17 L236.24,561.13 L236.77,561.09 L237.31,561.05 L237.85,561.01 L238.39,560.97 L238.93,560.93 L239.47,560.89 L240.01,560.85 L240.55,560.81 L241.09,560.77 L241.63,560.74 L242.17,560.70 L242.71,560.66 L243.25,560.62 L243.79,560.59 L244.33,560.55 L244.87,560.51 L245.40,560.48 L245.94,560.44 L246.48,560.41 L247.02,560.37 L247.56,560.33 L248.10,560.30 L248.64,560.26 L249.18,560.23 L249.72,560.19 L250.26,560.16 L250.80,560.13 L251.34,560.09 L251.88,560.06 L252.42,560.02 L252.96,559.99 L253.49,559.96 L254.03,559.92 L254.57,559.89 L255.11,559.86 L255.65,559.83 L256.19,559.79 L256.73,559.76 L257.27,559.73 L257.81,559.70 L258.35,559.67 L258.89,559.64 L259.43,559.61 L259.97,559.58 L260.51,559.55 L261.05,559.52 L261.58,559.49 L262.12,559.46 L262.66,559.43 L263.20,559.40 L263.74,559.37 L264.28,559.34 L264.82,559.31 L265.36,559.28 L265.90,559.25 L266.44,559.22 L266.98,559.20 L267.52,559.17 L268.06,559.14 L268.60,559.11 L269.14,559.08 L269.68,559.06 L270.21,559.03 L270.75,559.00 L271.29,558.98 L271.83,558.95 L272.37,558.92 L272.91,558.89 L273.45,558.87 L273.99,558.84 L274.53,558.81 L275.07,558.79 L275.61,558.76 L276.15,558.74 L276.69,558.71 L277.23,558.69 L277.77,558.66 L278.30,558.63 L278.84,558.61 L279.38,558.58 L279.92,558.56 L280.46,558.53 L281.00,558.51 L281.54,558.49 L282.08,558.46 L282.62,558.44 L283.16,558.41 L283.70,558.39 L284.24,558.37 L284.78,558.34 L285.32,558.32 L285.86,558.30 L286.39,558.27 L286.93,558.25 L287.47,558.23 L288.01,558.21 L288.55,558.18 L289.09,558.16 L289.63,558.14 L290.17,558.12 L290.71,558.10 L291.25,558.08 L291.79,558.06 L292.33,558.03 L292.87,558.01 L293.41,557.99 L293.95,557.97 L294.49,557.95 L295.02,557.93 L295.56,557.91 L296.10,557.89 L296.64,557.87 L297.18,557.86 L297.72,557.84 L298.26,557.82 L298.80,557.80" fill="none" stroke="#1212f6" stroke-width="1.7" stroke-linejoin="round" />
<path d="M84.59,711.43 L85.31,705.44 L86.02,702.92 L86.73,701.03 L87.45,699.28 L88.16,697.56 L88.87,695.86 L89.59,694.19 L90.30,692.54 L91.01,690.90 L91.73,689.29 L92.44,687.69 L93.15,686.11 L93.86,684.55 L94.58,683.01 L95.29,681.49 L96.00,679.99 L96.72,678.50 L97.43,677.03 L98.14,675.58 L98.86,674.15 L99.57,672.73 L100.28,671.33 L100.99,669.94 L101.71,668.57 L102.42,667.22 L103.13,665.89 L103.85,664.57 L104.56,663.26 L105.27,661.97 L105.99,660.70 L106.70,659.44 L107.41,658.20 L108.12,656.97 L108.84,655.75 L109.55,654.55 L110.26,653.36 L110.98,652.19 L111.69,651.03 L112.40,649.89 L113.12,648.76 L113.83,647.64 L114.54,646.53 L115.25,645.44 L115.97,644.36 L116.68,643.30 L117.39,642.24 L118.11,641.20 L118.82,640.17 L119.53,639.16 L120.25,638.15 L120.96,637.16 L121.67,636.18 L122.38,635.21 L123.10,634.25 L123.81,633.30 L124.52,632.37 L125.24,631.44 L125.95,630.53 L126.66,629.63 L127.38,628.74 L128.09,627.85 L128.80,626.98 L129.52,626.12 L130.23,625.27 L130.94,624.43 L131.65,623.60 L132.37,622.78 L133.08,621.97 L133.79,621.16 L134.51,620.37 L135.22,619.59 L135.93,618.82 L136.65,618.05 L137.36,617.30 L138.07,616.55 L138.78,615.81 L139.50,615.08 L140.21,614.36 L140.92,613.65 L141.64,612.95 L142.35,612.25 L143.06,611.56 L143.78,610.88 L144.49,610.21 L145.20,609.55 L145.91,608.89 L146.63,608.25 L147.34,607.61 L148.05,606.97 L148.77,606.35 L149.48,605.73 L150.19,605.12 L150.91,604.52 L151.62,603.92 L152.33,603.33 L153.04,602.75 L153.76,602.18 L154.47,601.61 L155.18,601.05 L155.90,600.49 L156.61,599.94 L157.32,599.40 L158.04,598.87 L158.75,598.34 L159.46,597.81 L160.17,597.30 L160.89,596.79 L161.60,596.28 L162.31,595.78 L163.03,595.29 L163.74,594.80 L164.45,594.32 L165.17,593.85 L165.88,593.38 L166.59,592.91 L167.31,592.45 L168.02,592.00 L168.73,591.55 L169.44,591.11 L170.16,590.67 L170.87,590.24 L171.58,589.81 L172.30,589.39 L173.01,588.97 L173.72,588.56 L174.44,588.15 L175.15,587.75 L175.86,587.35 L176.57,586.96 L177.29,586.57 L178.00,586.18 L178.71,585.80 L179.43,585.43 L180.14,585.06 L180.85,584.69 L181.57,584.33 L182.28,583.97 L182.99,583.62 L183.70,583.27 L184.42,582.93 L185.13,582.58 L185.84,582.25 L186.56,581.91 L187.27,581.58 L187.98,581.26 L188.70,580.94 L189.41,580.62 L190.12,580.31 L190.83,580.00 L191.55,579.69 L192.26,579.39 L192.97,579.09 L193.69,578.79 L194.40,578.50 L195.11,578.21 L195.83,577.93 L196.54,577.64 L197.25,577.36 L197.96,577.09 L198.68,576.82 L199.39,576.55 L200.10,576.28 L200.82,576.02 L201.53,575.76 L202.24,575.50 L202.96,575.25 L203.67,575.00 L204.38,574.75 L205.10,574.51 L205.81,574.27 L206.52,574.03 L207.23,573.79 L207.95,573.56 L208.66,573.33 L209.37,573.10 L210.09,572.87 L210.80,572.65 L211.51,572.43 L212.23,572.21 L212.94,572.00 L213.65,571.79 L214.36,571.58 L215.08,571.37 L215.79,571.17 L216.50,570.96 L217.22,570.76 L217.93,570.57 L218.64,570.37 L219.36,570.18 L220.07,569.99 L220.78,569.80 L221.49,569.61 L222.21,569.43 L222.92,569.25 L223.63,569.07 L224.35,568.89 L225.06,568.71 L225.77,568.54 L226.49,568.37 L227.20,568.20 L227.91,568.03 L228.62,567.87 L229.34,567.70 L230.05,567.54 L230.76,567.38 L231.48,567.23 L232.19,567.07 L232.90,566.92 L233.62,566.76 L234.33,566.61 L235.04,566.46 L235.75,566.32 L236.47,566.17 L237.18,566.03 L237.89,565.89 L238.61,565.75 L239.32,565.61 L240.03,565.47 L240.75,565.34 L241.46,565.20 L242.17,565.07 L242.89,564.94 L243.60,564.81 L244.31,564.68 L245.02,564.56 L245.74,564.43 L246.45,564.31 L247.16,564.19 L247.88,564.07 L248.59,563.95 L249.30,563.83 L250.02,563.72 L250.73,563.60 L251.44,563.49 L252.15,563.38 L252.87,563.27 L253.58,563.16 L254.29,563.05 L255.01,562.95 L255.72,562.84 L256.43,562.74 L257.15,562.63 L257.86,562.53 L258.57,562.43 L259.28,562.33 L260.00,562.23 L260.71,562.14 L261.42,562.04 L262.14,561.95 L262.85,561.85 L263.56,561.76 L264.28,561.67 L264.99,561.58 L265.70,561.49 L266.41,561.40 L267.13,561.31 L267.84,561.23 L268.55,561.14 L269.27,561.06 L269.98,560.98 L270.69,560.89 L271.41,560.81 L272.12,560.73 L272.83,560.65 L273.54,560.58 L274.26,560.50 L274.97,560.42 L275.68,560.35 L276.40,560.27 L277.11,560.20 L277.82,560.13 L278.54,560.05 L279.25,559.98 L279.96,559.91 L280.68,559.84 L281.39,559.77 L282.10,559.71 L282.81,559.64 L283.53,559.57 L284.24,559.51 L284.95,559.44 L285.67,559.38 L286.38,559.31 L287.09,559.25 L287.81,559.19 L288.52,559.13 L289.23,559.07 L289.94,559.01 L290.66,558.95 L291.37,558.89 L292.08,558.84 L292.80,558.78 L293.51,558.72 L294.22,558.67 L294.94,558.61 L295.65,558.56 L296.36,558.50 L297.07,558.45 L297.79,558.40" fill="none" stroke="#1212f6" stroke-width="1.7" stroke-linejoin="round" />
<rect x="156.2" y="679.2" width="178.2" height="47.2" fill="#fff" stroke="#000" stroke-width="1.5"/>
<rect x="166.25" y="687.65" width="5.3" height="5.3" fill="#000"/>
<path d="M169.50,700.10 L173.40,707.10 L165.60,707.10 Z" fill="#f81812"/>
<line x1="159.20" y1="715.70" x2="179.70" y2="715.70" stroke="#1212f6" stroke-width="1.4" />
<text x="186.80" y="694.60" font-size="11.7" text-anchor="start" >ProQ WT, RIF, exponential</text>
<text x="187.60" y="707.10" font-size="11.7" text-anchor="start" >ProQ WT, NT, exponential</text>
<text x="187.00" y="719.00" font-size="11.7" text-anchor="start" >Double-population fit</text>
<text x="2.6" y="553.0" font-size="23" font-weight="bold">C</text>
<path d="M419.10,270.51 L419.10,482.61 L683.20,482.61" fill="none" stroke="#000" stroke-width="1.6" stroke-linejoin="miter" stroke-linecap="square"/>
<line x1="415.30" y1="461.40" x2="419.10" y2="461.40" stroke="#000" stroke-width="1.6" />
<line x1="415.30" y1="418.98" x2="419.10" y2="418.98" stroke="#000" stroke-width="1.6" />
<line x1="415.30" y1="376.56" x2="419.10" y2="376.56" stroke="#000" stroke-width="1.6" />
<line x1="415.30" y1="334.14" x2="419.10" y2="334.14" stroke="#000" stroke-width="1.6" />
<line x1="415.30" y1="291.72" x2="419.10" y2="291.72" stroke="#000" stroke-width="1.6" />
<line x1="416.90" y1="440.19" x2="419.10" y2="440.19" stroke="#000" stroke-width="1.6" />
<line x1="416.90" y1="397.77" x2="419.10" y2="397.77" stroke="#000" stroke-width="1.6" />
<line x1="416.90" y1="355.35" x2="419.10" y2="355.35" stroke="#000" stroke-width="1.6" />
<line x1="416.90" y1="312.93" x2="419.10" y2="312.93" stroke="#000" stroke-width="1.6" />
<line x1="416.90" y1="270.51" x2="419.10" y2="270.51" stroke="#000" stroke-width="1.6" />
<text x="412.40" y="466.80" font-size="12.7" text-anchor="end" >0.00</text>
<text x="412.40" y="424.38" font-size="12.7" text-anchor="end" >0.02</text>
<text x="412.40" y="381.96" font-size="12.7" text-anchor="end" >0.04</text>
<text x="412.40" y="339.54" font-size="12.7" text-anchor="end" >0.06</text>
<text x="412.40" y="297.12" font-size="12.7" text-anchor="end" >0.08</text>
<line x1="445.60" y1="482.61" x2="445.60" y2="486.41" stroke="#000" stroke-width="1.6" />
<line x1="498.40" y1="482.61" x2="498.40" y2="486.41" stroke="#000" stroke-width="1.6" />
<line x1="551.20" y1="482.61" x2="551.20" y2="486.41" stroke="#000" stroke-width="1.6" />
<line x1="604.00" y1="482.61" x2="604.00" y2="486.41" stroke="#000" stroke-width="1.6" />
<line x1="656.80" y1="482.61" x2="656.80" y2="486.41" stroke="#000" stroke-width="1.6" />
<line x1="683.20" y1="482.61" x2="683.20" y2="486.41" stroke="#000" stroke-width="1.6" />
<line x1="472.00" y1="482.61" x2="472.00" y2="484.81" stroke="#000" stroke-width="1.6" />
<line x1="524.80" y1="482.61" x2="524.80" y2="484.81" stroke="#000" stroke-width="1.6" />
<line x1="577.60" y1="482.61" x2="577.60" y2="484.81" stroke="#000" stroke-width="1.6" />
<line x1="630.40" y1="482.61" x2="630.40" y2="484.81" stroke="#000" stroke-width="1.6" />
<text x="444.70" y="500.41" font-size="12.3" text-anchor="middle">10<tspan font-size="7.9" dy="-4.7">−2</tspan></text>
<text x="497.50" y="500.41" font-size="12.3" text-anchor="middle">10<tspan font-size="7.9" dy="-4.7">−1</tspan></text>
<text x="550.30" y="500.41" font-size="12.3" text-anchor="middle">10<tspan font-size="7.9" dy="-4.7">0</tspan></text>
<text x="603.10" y="500.41" font-size="12.3" text-anchor="middle">10<tspan font-size="7.9" dy="-4.7">1</tspan></text>
<text x="655.90" y="500.41" font-size="12.3" text-anchor="middle">10<tspan font-size="7.9" dy="-4.7">2</tspan></text>
<text x="464.3" y="514.6" font-size="14.5">Diffusion coefficient (μm<tspan font-size="8" dy="-5.2">2 </tspan><tspan dy="5.2">s</tspan><tspan font-size="8" dy="-5.2">-1</tspan><tspan dy="5.2">)</tspan></text>
<text transform="translate(380.3,368.7) rotate(-90)" font-size="14.2" text-anchor="middle">Occupation</text>
<text x="474.10" y="271.20" font-size="14.72" text-anchor="start" >ProQ WT, RIF, exponential</text>
<rect x="444.50" y="455.60" width="4.2" height="4.2" fill="#000"/>
<rect x="446.61" y="455.81" width="4.2" height="4.2" fill="#000"/>
<rect x="448.72" y="456.00" width="4.2" height="4.2" fill="#000"/>
<rect x="450.84" y="456.19" width="4.2" height="4.2" fill="#000"/>
<rect x="452.95" y="456.36" width="4.2" height="4.2" fill="#000"/>
<rect x="455.06" y="456.51" width="4.2" height="4.2" fill="#000"/>
<rect x="457.17" y="456.66" width="4.2" height="4.2" fill="#000"/>
<rect x="459.28" y="456.79" width="4.2" height="4.2" fill="#000"/>
<rect x="461.40" y="456.92" width="4.2" height="4.2" fill="#000"/>
<rect x="463.51" y="457.05" width="4.2" height="4.2" fill="#000"/>
<rect x="465.62" y="457.17" width="4.2" height="4.2" fill="#000"/>
<rect x="467.73" y="457.28" width="4.2" height="4.2" fill="#000"/>
<rect x="469.84" y="457.35" width="4.2" height="4.2" fill="#000"/>
<rect x="471.96" y="457.40" width="4.2" height="4.2" fill="#000"/>
<rect x="474.07" y="457.40" width="4.2" height="4.2" fill="#000"/>
<rect x="476.18" y="457.38" width="4.2" height="4.2" fill="#000"/>
<rect x="478.29" y="457.36" width="4.2" height="4.2" fill="#000"/>
<rect x="480.40" y="457.32" width="4.2" height="4.2" fill="#000"/>
<rect x="482.52" y="457.27" width="4.2" height="4.2" fill="#000"/>
<rect x="484.63" y="457.21" width="4.2" height="4.2" fill="#000"/>
<rect x="486.74" y="457.14" width="4.2" height="4.2" fill="#000"/>
<rect x="488.85" y="457.05" width="4.2" height="4.2" fill="#000"/>
<rect x="490.96" y="456.87" width="4.2" height="4.2" fill="#000"/>
<rect x="493.08" y="456.60" width="4.2" height="4.2" fill="#000"/>
<rect x="495.19" y="456.29" width="4.2" height="4.2" fill="#000"/>
<rect x="497.30" y="455.98" width="4.2" height="4.2" fill="#000"/>
<rect x="499.41" y="455.69" width="4.2" height="4.2" fill="#000"/>
<rect x="501.52" y="455.38" width="4.2" height="4.2" fill="#000"/>
<rect x="503.64" y="455.03" width="4.2" height="4.2" fill="#000"/>
<rect x="505.75" y="454.64" width="4.2" height="4.2" fill="#000"/>
<rect x="507.86" y="454.20" width="4.2" height="4.2" fill="#000"/>
<rect x="509.97" y="453.73" width="4.2" height="4.2" fill="#000"/>
<rect x="512.08" y="453.19" width="4.2" height="4.2" fill="#000"/>
<rect x="514.20" y="452.62" width="4.2" height="4.2" fill="#000"/>
<rect x="516.31" y="452.03" width="4.2" height="4.2" fill="#000"/>
<rect x="518.42" y="451.09" width="4.2" height="4.2" fill="#000"/>
<rect x="520.53" y="449.94" width="4.2" height="4.2" fill="#000"/>
<rect x="522.64" y="448.61" width="4.2" height="4.2" fill="#000"/>
<rect x="524.76" y="446.83" width="4.2" height="4.2" fill="#000"/>
<rect x="526.87" y="444.20" width="4.2" height="4.2" fill="#000"/>
<rect x="528.98" y="441.34" width="4.2" height="4.2" fill="#000"/>
<rect x="531.09" y="437.83" width="4.2" height="4.2" fill="#000"/>
<rect x="533.20" y="433.72" width="4.2" height="4.2" fill="#000"/>
<rect x="535.32" y="427.74" width="4.2" height="4.2" fill="#000"/>
<rect x="537.43" y="421.46" width="4.2" height="4.2" fill="#000"/>
<rect x="539.54" y="412.70" width="4.2" height="4.2" fill="#000"/>
<rect x="541.65" y="399.04" width="4.2" height="4.2" fill="#000"/>
<rect x="543.76" y="383.22" width="4.2" height="4.2" fill="#000"/>
<rect x="545.88" y="360.71" width="4.2" height="4.2" fill="#000"/>
<rect x="547.99" y="342.25" width="4.2" height="4.2" fill="#000"/>
<rect x="550.10" y="320.80" width="4.2" height="4.2" fill="#000"/>
<rect x="552.21" y="301.80" width="4.2" height="4.2" fill="#000"/>
<rect x="554.32" y="290.44" width="4.2" height="4.2" fill="#000"/>
<rect x="556.44" y="288.00" width="4.2" height="4.2" fill="#000"/>
<rect x="558.55" y="298.74" width="4.2" height="4.2" fill="#000"/>
<rect x="560.66" y="326.73" width="4.2" height="4.2" fill="#000"/>
<rect x="562.77" y="357.59" width="4.2" height="4.2" fill="#000"/>
<rect x="564.88" y="384.67" width="4.2" height="4.2" fill="#000"/>
<rect x="567.00" y="402.90" width="4.2" height="4.2" fill="#000"/>
<rect x="569.11" y="415.84" width="4.2" height="4.2" fill="#000"/>
<rect x="571.22" y="424.70" width="4.2" height="4.2" fill="#000"/>
<rect x="573.33" y="432.11" width="4.2" height="4.2" fill="#000"/>
<rect x="575.44" y="437.52" width="4.2" height="4.2" fill="#000"/>
<rect x="577.56" y="442.09" width="4.2" height="4.2" fill="#000"/>
<rect x="579.67" y="445.42" width="4.2" height="4.2" fill="#000"/>
<rect x="581.78" y="447.78" width="4.2" height="4.2" fill="#000"/>
<rect x="583.89" y="449.27" width="4.2" height="4.2" fill="#000"/>
<rect x="586.00" y="450.40" width="4.2" height="4.2" fill="#000"/>
<rect x="588.12" y="451.40" width="4.2" height="4.2" fill="#000"/>
<rect x="590.23" y="452.39" width="4.2" height="4.2" fill="#000"/>
<rect x="592.34" y="453.30" width="4.2" height="4.2" fill="#000"/>
<rect x="594.45" y="454.11" width="4.2" height="4.2" fill="#000"/>
<rect x="596.56" y="454.76" width="4.2" height="4.2" fill="#000"/>
<rect x="598.68" y="455.28" width="4.2" height="4.2" fill="#000"/>
<rect x="600.79" y="455.72" width="4.2" height="4.2" fill="#000"/>
<rect x="602.90" y="456.10" width="4.2" height="4.2" fill="#000"/>
<rect x="605.01" y="456.43" width="4.2" height="4.2" fill="#000"/>
<rect x="607.12" y="456.72" width="4.2" height="4.2" fill="#000"/>
<rect x="609.24" y="456.99" width="4.2" height="4.2" fill="#000"/>
<rect x="611.35" y="457.25" width="4.2" height="4.2" fill="#000"/>
<rect x="613.46" y="457.49" width="4.2" height="4.2" fill="#000"/>
<rect x="615.57" y="457.70" width="4.2" height="4.2" fill="#000"/>
<rect x="617.68" y="457.90" width="4.2" height="4.2" fill="#000"/>
<rect x="619.80" y="458.08" width="4.2" height="4.2" fill="#000"/>
<rect x="621.91" y="458.23" width="4.2" height="4.2" fill="#000"/>
<rect x="624.02" y="458.37" width="4.2" height="4.2" fill="#000"/>
<rect x="626.13" y="458.50" width="4.2" height="4.2" fill="#000"/>
<rect x="628.24" y="458.63" width="4.2" height="4.2" fill="#000"/>
<rect x="630.36" y="458.74" width="4.2" height="4.2" fill="#000"/>
<rect x="632.47" y="458.85" width="4.2" height="4.2" fill="#000"/>
<rect x="634.58" y="458.94" width="4.2" height="4.2" fill="#000"/>
<rect x="636.69" y="459.02" width="4.2" height="4.2" fill="#000"/>
<rect x="638.80" y="459.07" width="4.2" height="4.2" fill="#000"/>
<rect x="640.92" y="459.10" width="4.2" height="4.2" fill="#000"/>
<rect x="643.03" y="459.13" width="4.2" height="4.2" fill="#000"/>
<rect x="645.14" y="459.15" width="4.2" height="4.2" fill="#000"/>
<rect x="647.25" y="459.17" width="4.2" height="4.2" fill="#000"/>
<rect x="649.36" y="459.18" width="4.2" height="4.2" fill="#000"/>
<rect x="651.48" y="459.19" width="4.2" height="4.2" fill="#000"/>
<rect x="653.59" y="459.20" width="4.2" height="4.2" fill="#000"/>
<rect x="655.70" y="459.20" width="4.2" height="4.2" fill="#000"/>
<path d="M445.60,457.30 L446.13,457.30 L446.66,457.30 L447.19,457.30 L447.72,457.30 L448.25,457.30 L448.78,457.30 L449.31,457.30 L449.83,457.30 L450.36,457.30 L450.89,457.30 L451.42,457.30 L451.95,457.30 L452.48,457.30 L453.01,457.30 L453.54,457.30 L454.07,457.30 L454.60,457.30 L455.13,457.30 L455.66,457.30 L456.19,457.30 L456.72,457.30 L457.25,457.30 L457.77,457.30 L458.30,457.30 L458.83,457.30 L459.36,457.30 L459.89,457.30 L460.42,457.30 L460.95,457.30 L461.48,457.30 L462.01,457.30 L462.54,457.30 L463.07,457.30 L463.60,457.30 L464.13,457.30 L464.66,457.30 L465.18,457.30 L465.71,457.30 L466.24,457.30 L466.77,457.30 L467.30,457.30 L467.83,457.30 L468.36,457.30 L468.89,457.30 L469.42,457.30 L469.95,457.30 L470.48,457.30 L471.01,457.30 L471.54,457.30 L472.07,457.30 L472.60,457.30 L473.12,457.30 L473.65,457.30 L474.18,457.30 L474.71,457.30 L475.24,457.30 L475.77,457.30 L476.30,457.30 L476.83,457.30 L477.36,457.30 L477.89,457.30 L478.42,457.30 L478.95,457.30 L479.48,457.30 L480.01,457.30 L480.54,457.30 L481.06,457.30 L481.59,457.30 L482.12,457.30 L482.65,457.30 L483.18,457.30 L483.71,457.30 L484.24,457.30 L484.77,457.30 L485.30,457.30 L485.83,457.30 L486.36,457.30 L486.89,457.30 L487.42,457.30 L487.95,457.30 L488.48,457.30 L489.00,457.30 L489.53,457.30 L490.06,457.30 L490.59,457.30 L491.12,457.30 L491.65,457.30 L492.18,457.30 L492.71,457.30 L493.24,457.30 L493.77,457.30 L494.30,457.30 L494.83,457.30 L495.36,457.30 L495.89,457.30 L496.42,457.30 L496.94,457.30 L497.47,457.30 L498.00,457.30 L498.53,457.30 L499.06,457.30 L499.59,457.30 L500.12,457.30 L500.65,457.30 L501.18,457.30 L501.71,457.30 L502.24,457.30 L502.77,457.30 L503.30,457.30 L503.83,457.30 L504.35,457.30 L504.88,457.30 L505.41,457.30 L505.94,457.30 L506.47,457.30 L507.00,457.30 L507.53,457.30 L508.06,457.30 L508.59,457.30 L509.12,457.30 L509.65,457.30 L510.18,457.30 L510.71,457.30 L511.24,457.30 L511.77,457.30 L512.29,457.30 L512.82,457.30 L513.35,457.30 L513.88,457.30 L514.41,457.30 L514.94,457.30 L515.47,457.29 L516.00,457.29 L516.53,457.29 L517.06,457.29 L517.59,457.28 L518.12,457.28 L518.65,457.27 L519.18,457.27 L519.71,457.26 L520.23,457.25 L520.76,457.23 L521.29,457.21 L521.82,457.19 L522.35,457.17 L522.88,457.13 L523.41,457.09 L523.94,457.04 L524.47,456.98 L525.00,456.91 L525.53,456.82 L526.06,456.72 L526.59,456.59 L527.12,456.44 L527.65,456.26 L528.17,456.05 L528.70,455.81 L529.23,455.52 L529.76,455.18 L530.29,454.78 L530.82,454.32 L531.35,453.79 L531.88,453.18 L532.41,452.48 L532.94,451.67 L533.47,450.76 L534.00,449.73 L534.53,448.56 L535.06,447.25 L535.58,445.78 L536.11,444.14 L536.64,442.32 L537.17,440.31 L537.70,438.09 L538.23,435.66 L538.76,433.00 L539.29,430.12 L539.82,426.99 L540.35,423.63 L540.88,420.02 L541.41,416.16 L541.94,412.07 L542.47,407.73 L543.00,403.17 L543.52,398.40 L544.05,393.42 L544.58,388.26 L545.11,382.95 L545.64,377.50 L546.17,371.94 L546.70,366.32 L547.23,360.66 L547.76,355.00 L548.29,349.39 L548.82,343.86 L549.35,338.46 L549.88,333.23 L550.41,328.22 L550.94,323.47 L551.46,319.03 L551.99,314.93 L552.52,311.21 L553.05,307.92 L553.58,305.08 L554.11,302.72 L554.64,300.87 L555.17,299.54 L555.70,298.75 L556.23,298.50 L556.76,298.80 L557.29,299.65 L557.82,301.04 L558.35,302.95 L558.88,305.36 L559.40,308.25 L559.93,311.59 L560.46,315.35 L560.99,319.49 L561.52,323.97 L562.05,328.75 L562.58,333.79 L563.11,339.04 L563.64,344.45 L564.17,349.99 L564.70,355.61 L565.23,361.27 L565.76,366.93 L566.29,372.55 L566.82,378.09 L567.34,383.53 L567.87,388.83 L568.40,393.97 L568.93,398.92 L569.46,403.67 L569.99,408.21 L570.52,412.52 L571.05,416.59 L571.58,420.42 L572.11,424.00 L572.64,427.34 L573.17,430.44 L573.70,433.30 L574.23,435.93 L574.75,438.34 L575.28,440.53 L575.81,442.52 L576.34,444.32 L576.87,445.94 L577.40,447.40 L577.93,448.69 L578.46,449.84 L578.99,450.87 L579.52,451.77 L580.05,452.56 L580.58,453.25 L581.11,453.85 L581.64,454.37 L582.17,454.83 L582.69,455.22 L583.22,455.55 L583.75,455.84 L584.28,456.08 L584.81,456.29 L585.34,456.46 L585.87,456.61 L586.40,456.73 L586.93,456.83 L587.46,456.92 L587.99,456.99 L588.52,457.05 L589.05,457.10 L589.58,457.14 L590.11,457.17 L590.63,457.19 L591.16,457.22 L591.69,457.23 L592.22,457.25 L592.75,457.26 L593.28,457.27 L593.81,457.27 L594.34,457.28 L594.87,457.28 L595.40,457.29 L595.93,457.29 L596.46,457.29 L596.99,457.29 L597.52,457.30 L598.05,457.30 L598.57,457.30 L599.10,457.30 L599.63,457.30 L600.16,457.30 L600.69,457.30 L601.22,457.30 L601.75,457.30 L602.28,457.30 L602.81,457.30 L603.34,457.30 L603.87,457.30 L604.40,457.30 L604.93,457.30 L605.46,457.30 L605.98,457.30 L606.51,457.30 L607.04,457.30 L607.57,457.30 L608.10,457.30 L608.63,457.30 L609.16,457.30 L609.69,457.30 L610.22,457.30 L610.75,457.30 L611.28,457.30 L611.81,457.30 L612.34,457.30 L612.87,457.30 L613.40,457.30 L613.92,457.30 L614.45,457.30 L614.98,457.30 L615.51,457.30 L616.04,457.30 L616.57,457.30 L617.10,457.30 L617.63,457.30 L618.16,457.30 L618.69,457.30 L619.22,457.30 L619.75,457.30 L620.28,457.30 L620.81,457.30 L621.34,457.30 L621.86,457.30 L622.39,457.30 L622.92,457.30 L623.45,457.30 L623.98,457.30 L624.51,457.30 L625.04,457.30 L625.57,457.30 L626.10,457.30 L626.63,457.30 L627.16,457.30 L627.69,457.30 L628.22,457.30 L628.75,457.30 L629.28,457.30 L629.80,457.30 L630.33,457.30 L630.86,457.30 L631.39,457.30 L631.92,457.30 L632.45,457.30 L632.98,457.30 L633.51,457.30 L634.04,457.30 L634.57,457.30 L635.10,457.30 L635.63,457.30 L636.16,457.30 L636.69,457.30 L637.22,457.30 L637.74,457.30 L638.27,457.30 L638.80,457.30 L639.33,457.30 L639.86,457.30 L640.39,457.30 L640.92,457.30 L641.45,457.30 L641.98,457.30 L642.51,457.30 L643.04,457.30 L643.57,457.30 L644.10,457.30 L644.63,457.30 L645.15,457.30 L645.68,457.30 L646.21,457.30 L646.74,457.30 L647.27,457.30 L647.80,457.30 L648.33,457.30 L648.86,457.30 L649.39,457.30 L649.92,457.30 L650.45,457.30 L650.98,457.30 L651.51,457.30 L652.04,457.30 L652.57,457.30 L653.09,457.30 L653.62,457.30 L654.15,457.30 L654.68,457.30 L655.21,457.30 L655.74,457.30 L656.27,457.30 L656.80,457.30" fill="none" stroke="#f81812" stroke-width="1.5" stroke-linejoin="round" />
<path d="M556.0,281 L556.0,454.6" stroke="#222" stroke-width="1.5" stroke-dasharray="7.6 6.9" stroke-dashoffset="4.4" fill="none"/>
<text x="549.3" y="473.7" font-size="14.6" font-style="italic">D</text>
<text x="559.6" y="478.5" font-size="8.2">fast</text>
<text x="363.8" y="278.8" font-size="23" font-weight="bold">D</text>
<path d="M418.20,547.30 L418.20,755.76 L677.55,755.76" fill="none" stroke="#000" stroke-width="1.6" stroke-linejoin="miter" stroke-linecap="square"/>
<line x1="414.40" y1="755.76" x2="418.20" y2="755.76" stroke="#000" stroke-width="1.6" />
<line x1="414.40" y1="732.60" x2="418.20" y2="732.60" stroke="#000" stroke-width="1.6" />
<line x1="414.40" y1="709.44" x2="418.20" y2="709.44" stroke="#000" stroke-width="1.6" />
<line x1="414.40" y1="686.27" x2="418.20" y2="686.27" stroke="#000" stroke-width="1.6" />
<line x1="414.40" y1="663.11" x2="418.20" y2="663.11" stroke="#000" stroke-width="1.6" />
<line x1="414.40" y1="639.95" x2="418.20" y2="639.95" stroke="#000" stroke-width="1.6" />
<line x1="414.40" y1="616.79" x2="418.20" y2="616.79" stroke="#000" stroke-width="1.6" />
<line x1="414.40" y1="593.62" x2="418.20" y2="593.62" stroke="#000" stroke-width="1.6" />
<line x1="414.40" y1="570.46" x2="418.20" y2="570.46" stroke="#000" stroke-width="1.6" />
<line x1="414.40" y1="547.30" x2="418.20" y2="547.30" stroke="#000" stroke-width="1.6" />
<line x1="416.00" y1="744.18" x2="418.20" y2="744.18" stroke="#000" stroke-width="1.6" />
<line x1="416.00" y1="721.02" x2="418.20" y2="721.02" stroke="#000" stroke-width="1.6" />
<line x1="416.00" y1="697.86" x2="418.20" y2="697.86" stroke="#000" stroke-width="1.6" />
<line x1="416.00" y1="674.69" x2="418.20" y2="674.69" stroke="#000" stroke-width="1.6" />
<line x1="416.00" y1="651.53" x2="418.20" y2="651.53" stroke="#000" stroke-width="1.6" />
<line x1="416.00" y1="628.37" x2="418.20" y2="628.37" stroke="#000" stroke-width="1.6" />
<line x1="416.00" y1="605.21" x2="418.20" y2="605.21" stroke="#000" stroke-width="1.6" />
<line x1="416.00" y1="582.04" x2="418.20" y2="582.04" stroke="#000" stroke-width="1.6" />
<line x1="416.00" y1="558.88" x2="418.20" y2="558.88" stroke="#000" stroke-width="1.6" />
<text x="411.00" y="758.76" font-size="11.5" text-anchor="end" >−0.005</text>
<text x="409.30" y="735.60" font-size="11.5" text-anchor="end" >0.000</text>
<text x="409.30" y="712.44" font-size="11.5" text-anchor="end" >0.005</text>
<text x="409.30" y="689.27" font-size="11.5" text-anchor="end" >0.010</text>
<text x="409.30" y="666.11" font-size="11.5" text-anchor="end" >0.015</text>
<text x="409.30" y="642.95" font-size="11.5" text-anchor="end" >0.020</text>
<text x="409.30" y="619.79" font-size="11.5" text-anchor="end" >0.025</text>
<text x="409.30" y="596.62" font-size="11.5" text-anchor="end" >0.030</text>
<text x="409.30" y="573.46" font-size="11.5" text-anchor="end" >0.035</text>
<text x="409.30" y="550.30" font-size="11.5" text-anchor="end" >0.040</text>
<line x1="444.00" y1="755.76" x2="444.00" y2="759.56" stroke="#000" stroke-width="1.6" />
<line x1="495.90" y1="755.76" x2="495.90" y2="759.56" stroke="#000" stroke-width="1.6" />
<line x1="547.80" y1="755.76" x2="547.80" y2="759.56" stroke="#000" stroke-width="1.6" />
<line x1="599.70" y1="755.76" x2="599.70" y2="759.56" stroke="#000" stroke-width="1.6" />
<line x1="651.60" y1="755.76" x2="651.60" y2="759.56" stroke="#000" stroke-width="1.6" />
<line x1="677.55" y1="755.76" x2="677.55" y2="759.56" stroke="#000" stroke-width="1.6" />
<line x1="469.95" y1="755.76" x2="469.95" y2="757.96" stroke="#000" stroke-width="1.6" />
<line x1="521.85" y1="755.76" x2="521.85" y2="757.96" stroke="#000" stroke-width="1.6" />
<line x1="573.75" y1="755.76" x2="573.75" y2="757.96" stroke="#000" stroke-width="1.6" />
<line x1="625.65" y1="755.76" x2="625.65" y2="757.96" stroke="#000" stroke-width="1.6" />
<text x="443.10" y="773.76" font-size="12.3" text-anchor="middle">10<tspan font-size="7.9" dy="-4.7">−2</tspan></text>
<text x="495.00" y="773.76" font-size="12.3" text-anchor="middle">10<tspan font-size="7.9" dy="-4.7">−1</tspan></text>
<text x="546.90" y="773.76" font-size="12.3" text-anchor="middle">10<tspan font-size="7.9" dy="-4.7">0</tspan></text>
<text x="598.80" y="773.76" font-size="12.3" text-anchor="middle">10<tspan font-size="7.9" dy="-4.7">1</tspan></text>
<text x="650.70" y="773.76" font-size="12.3" text-anchor="middle">10<tspan font-size="7.9" dy="-4.7">2</tspan></text>
<text x="457.0" y="788.6" font-size="14.5">Diffusion coefficient (μm<tspan font-size="8" dy="-5.2">2 </tspan><tspan dy="5.2">s</tspan><tspan font-size="8" dy="-5.2">-1</tspan><tspan dy="5.2">)</tspan></text>
<text transform="translate(371.6,631.9) rotate(-90)" font-size="14.2" text-anchor="middle">Occupation</text>
<text x="458.50" y="546.70" font-size="14.68" text-anchor="start" >ProQ WT, NT, exponential</text>
<rect x="442.90" y="704.72" width="4.2" height="4.2" fill="#000"/>
<rect x="444.98" y="704.37" width="4.2" height="4.2" fill="#000"/>
<rect x="447.05" y="703.90" width="4.2" height="4.2" fill="#000"/>
<rect x="449.13" y="703.33" width="4.2" height="4.2" fill="#000"/>
<rect x="451.20" y="702.69" width="4.2" height="4.2" fill="#000"/>
<rect x="453.28" y="701.98" width="4.2" height="4.2" fill="#000"/>
<rect x="455.36" y="701.12" width="4.2" height="4.2" fill="#000"/>
<rect x="457.43" y="700.10" width="4.2" height="4.2" fill="#000"/>
<rect x="459.51" y="698.93" width="4.2" height="4.2" fill="#000"/>
<rect x="461.58" y="697.61" width="4.2" height="4.2" fill="#000"/>
<rect x="463.66" y="696.01" width="4.2" height="4.2" fill="#000"/>
<rect x="465.74" y="694.07" width="4.2" height="4.2" fill="#000"/>
<rect x="467.81" y="691.90" width="4.2" height="4.2" fill="#000"/>
<rect x="469.89" y="689.61" width="4.2" height="4.2" fill="#000"/>
<rect x="471.96" y="687.08" width="4.2" height="4.2" fill="#000"/>
<rect x="474.04" y="684.32" width="4.2" height="4.2" fill="#000"/>
<rect x="476.12" y="681.40" width="4.2" height="4.2" fill="#000"/>
<rect x="478.19" y="678.27" width="4.2" height="4.2" fill="#000"/>
<rect x="480.27" y="674.92" width="4.2" height="4.2" fill="#000"/>
<rect x="482.34" y="671.34" width="4.2" height="4.2" fill="#000"/>
<rect x="484.42" y="667.46" width="4.2" height="4.2" fill="#000"/>
<rect x="486.50" y="663.44" width="4.2" height="4.2" fill="#000"/>
<rect x="488.57" y="659.43" width="4.2" height="4.2" fill="#000"/>
<rect x="490.65" y="655.37" width="4.2" height="4.2" fill="#000"/>
<rect x="492.72" y="651.59" width="4.2" height="4.2" fill="#000"/>
<rect x="494.80" y="648.08" width="4.2" height="4.2" fill="#000"/>
<rect x="496.88" y="644.39" width="4.2" height="4.2" fill="#000"/>
<rect x="498.95" y="640.40" width="4.2" height="4.2" fill="#000"/>
<rect x="501.03" y="635.40" width="4.2" height="4.2" fill="#000"/>
<rect x="503.10" y="630.73" width="4.2" height="4.2" fill="#000"/>
<rect x="505.18" y="627.30" width="4.2" height="4.2" fill="#000"/>
<rect x="507.26" y="625.26" width="4.2" height="4.2" fill="#000"/>
<rect x="509.33" y="624.34" width="4.2" height="4.2" fill="#000"/>
<rect x="511.41" y="624.59" width="4.2" height="4.2" fill="#000"/>
<rect x="513.48" y="626.56" width="4.2" height="4.2" fill="#000"/>
<rect x="515.56" y="628.79" width="4.2" height="4.2" fill="#000"/>
<rect x="517.64" y="631.51" width="4.2" height="4.2" fill="#000"/>
<rect x="519.71" y="634.16" width="4.2" height="4.2" fill="#000"/>
<rect x="521.79" y="636.88" width="4.2" height="4.2" fill="#000"/>
<rect x="523.86" y="637.16" width="4.2" height="4.2" fill="#000"/>
<rect x="525.94" y="635.93" width="4.2" height="4.2" fill="#000"/>
<rect x="528.02" y="631.78" width="4.2" height="4.2" fill="#000"/>
<rect x="530.09" y="625.97" width="4.2" height="4.2" fill="#000"/>
<rect x="532.17" y="619.37" width="4.2" height="4.2" fill="#000"/>
<rect x="534.24" y="612.28" width="4.2" height="4.2" fill="#000"/>
<rect x="536.32" y="605.75" width="4.2" height="4.2" fill="#000"/>
<rect x="538.40" y="597.42" width="4.2" height="4.2" fill="#000"/>
<rect x="540.47" y="589.18" width="4.2" height="4.2" fill="#000"/>
<rect x="542.55" y="581.81" width="4.2" height="4.2" fill="#000"/>
<rect x="544.62" y="573.79" width="4.2" height="4.2" fill="#000"/>
<rect x="546.70" y="569.11" width="4.2" height="4.2" fill="#000"/>
<rect x="548.78" y="572.71" width="4.2" height="4.2" fill="#000"/>
<rect x="550.85" y="589.86" width="4.2" height="4.2" fill="#000"/>
<rect x="552.93" y="619.48" width="4.2" height="4.2" fill="#000"/>
<rect x="555.00" y="647.48" width="4.2" height="4.2" fill="#000"/>
<rect x="557.08" y="671.80" width="4.2" height="4.2" fill="#000"/>
<rect x="559.16" y="686.54" width="4.2" height="4.2" fill="#000"/>
<rect x="561.23" y="697.47" width="4.2" height="4.2" fill="#000"/>
<rect x="563.31" y="705.16" width="4.2" height="4.2" fill="#000"/>
<rect x="565.38" y="710.59" width="4.2" height="4.2" fill="#000"/>
<rect x="567.46" y="714.81" width="4.2" height="4.2" fill="#000"/>
<rect x="569.54" y="717.75" width="4.2" height="4.2" fill="#000"/>
<rect x="571.61" y="720.06" width="4.2" height="4.2" fill="#000"/>
<rect x="573.69" y="721.88" width="4.2" height="4.2" fill="#000"/>
<rect x="575.76" y="723.18" width="4.2" height="4.2" fill="#000"/>
<rect x="577.84" y="724.18" width="4.2" height="4.2" fill="#000"/>
<rect x="579.92" y="725.05" width="4.2" height="4.2" fill="#000"/>
<rect x="581.99" y="725.78" width="4.2" height="4.2" fill="#000"/>
<rect x="584.07" y="726.37" width="4.2" height="4.2" fill="#000"/>
<rect x="586.14" y="726.79" width="4.2" height="4.2" fill="#000"/>
<rect x="588.22" y="727.07" width="4.2" height="4.2" fill="#000"/>
<rect x="590.30" y="727.32" width="4.2" height="4.2" fill="#000"/>
<rect x="592.37" y="727.55" width="4.2" height="4.2" fill="#000"/>
<rect x="594.45" y="727.75" width="4.2" height="4.2" fill="#000"/>
<rect x="596.52" y="727.94" width="4.2" height="4.2" fill="#000"/>
<rect x="598.60" y="728.11" width="4.2" height="4.2" fill="#000"/>
<rect x="600.68" y="728.27" width="4.2" height="4.2" fill="#000"/>
<rect x="602.75" y="728.41" width="4.2" height="4.2" fill="#000"/>
<rect x="604.83" y="728.54" width="4.2" height="4.2" fill="#000"/>
<rect x="606.90" y="728.66" width="4.2" height="4.2" fill="#000"/>
<rect x="608.98" y="728.77" width="4.2" height="4.2" fill="#000"/>
<rect x="611.06" y="728.87" width="4.2" height="4.2" fill="#000"/>
<rect x="613.13" y="728.97" width="4.2" height="4.2" fill="#000"/>
<rect x="615.21" y="729.06" width="4.2" height="4.2" fill="#000"/>
<rect x="617.28" y="729.14" width="4.2" height="4.2" fill="#000"/>
<rect x="619.36" y="729.23" width="4.2" height="4.2" fill="#000"/>
<rect x="621.44" y="729.31" width="4.2" height="4.2" fill="#000"/>
<rect x="623.51" y="729.39" width="4.2" height="4.2" fill="#000"/>
<rect x="625.59" y="729.47" width="4.2" height="4.2" fill="#000"/>
<rect x="627.66" y="729.55" width="4.2" height="4.2" fill="#000"/>
<rect x="629.74" y="729.63" width="4.2" height="4.2" fill="#000"/>
<rect x="631.82" y="729.70" width="4.2" height="4.2" fill="#000"/>
<rect x="633.89" y="729.77" width="4.2" height="4.2" fill="#000"/>
<rect x="635.97" y="729.83" width="4.2" height="4.2" fill="#000"/>
<rect x="638.04" y="729.89" width="4.2" height="4.2" fill="#000"/>
<rect x="640.12" y="729.94" width="4.2" height="4.2" fill="#000"/>
<rect x="642.20" y="729.99" width="4.2" height="4.2" fill="#000"/>
<rect x="644.27" y="730.03" width="4.2" height="4.2" fill="#000"/>
<rect x="646.35" y="730.06" width="4.2" height="4.2" fill="#000"/>
<rect x="648.42" y="730.08" width="4.2" height="4.2" fill="#000"/>
<rect x="650.50" y="730.10" width="4.2" height="4.2" fill="#000"/>
<path d="M446.10,724.30 L446.62,723.94 L447.13,723.57 L447.65,723.19 L448.17,722.81 L448.69,722.41 L449.20,722.01 L449.72,721.60 L450.24,721.18 L450.76,720.75 L451.27,720.31 L451.79,719.87 L452.31,719.41 L452.82,718.96 L453.34,718.49 L453.86,718.02 L454.38,717.53 L454.89,717.04 L455.41,716.54 L455.93,716.02 L456.45,715.49 L456.96,714.95 L457.48,714.40 L458.00,713.84 L458.52,713.28 L459.03,712.70 L459.55,712.12 L460.07,711.53 L460.58,710.94 L461.10,710.34 L461.62,709.74 L462.14,709.14 L462.65,708.53 L463.17,707.92 L463.69,707.31 L464.21,706.70 L464.72,706.09 L465.24,705.47 L465.76,704.85 L466.27,704.22 L466.79,703.58 L467.31,702.94 L467.83,702.29 L468.34,701.63 L468.86,700.96 L469.38,700.28 L469.90,699.59 L470.41,698.89 L470.93,698.18 L471.45,697.45 L471.96,696.71 L472.48,695.96 L473.00,695.20 L473.52,694.42 L474.03,693.63 L474.55,692.83 L475.07,692.01 L475.59,691.17 L476.10,690.32 L476.62,689.45 L477.14,688.56 L477.65,687.66 L478.17,686.73 L478.69,685.76 L479.21,684.77 L479.72,683.74 L480.24,682.69 L480.76,681.63 L481.28,680.54 L481.79,679.45 L482.31,678.34 L482.83,677.24 L483.35,676.13 L483.86,675.02 L484.38,673.88 L484.90,672.72 L485.41,671.54 L485.93,670.35 L486.45,669.16 L486.97,667.97 L487.48,666.79 L488.00,665.62 L488.52,664.47 L489.04,663.35 L489.55,662.25 L490.07,661.16 L490.59,660.07 L491.10,658.98 L491.62,657.91 L492.14,656.84 L492.66,655.80 L493.17,654.77 L493.69,653.76 L494.21,652.78 L494.73,651.82 L495.24,650.90 L495.76,650.00 L496.28,649.10 L496.79,648.20 L497.31,647.32 L497.83,646.44 L498.35,645.59 L498.86,644.75 L499.38,643.94 L499.90,643.16 L500.42,642.41 L500.93,641.70 L501.45,641.02 L501.97,640.38 L502.48,639.79 L503.00,639.21 L503.52,638.63 L504.04,638.05 L504.55,637.49 L505.07,636.95 L505.59,636.43 L506.11,635.93 L506.62,635.47 L507.14,635.05 L507.66,634.67 L508.18,634.34 L508.69,634.06 L509.21,633.83 L509.73,633.65 L510.24,633.48 L510.76,633.31 L511.28,633.15 L511.80,633.01 L512.31,632.88 L512.83,632.77 L513.35,632.69 L513.87,632.63 L514.38,632.60 L514.90,632.61 L515.42,632.67 L515.93,632.78 L516.45,632.93 L516.97,633.12 L517.49,633.34 L518.00,633.59 L518.52,633.85 L519.04,634.13 L519.56,634.41 L520.07,634.70 L520.59,635.04 L521.11,635.44 L521.62,635.89 L522.14,636.39 L522.66,636.92 L523.18,637.48 L523.69,638.05 L524.21,638.63 L524.73,639.20 L525.25,639.76 L525.76,640.32 L526.28,640.89 L526.80,641.47 L527.32,642.07 L527.83,642.69 L528.35,643.32 L528.87,643.98 L529.38,644.66 L529.90,645.36 L530.42,646.10 L530.94,646.89 L531.45,647.71 L531.97,648.57 L532.49,649.45 L533.01,650.35 L533.52,651.26 L534.04,652.18 L534.56,653.10 L535.07,654.03 L535.59,654.98 L536.11,655.95 L536.63,656.94 L537.14,657.93 L537.66,658.94 L538.18,659.95 L538.70,660.96 L539.21,661.97 L539.73,662.98 L540.25,663.99 L540.76,664.98 L541.28,665.97 L541.80,666.94 L542.32,667.92 L542.83,668.91 L543.35,669.89 L543.87,670.87 L544.39,671.85 L544.90,672.82 L545.42,673.79 L545.94,674.75 L546.45,675.71 L546.97,676.65 L547.49,677.59 L548.01,678.51 L548.52,679.42 L549.04,680.30 L549.56,681.16 L550.08,682.02 L550.59,682.87 L551.11,683.74 L551.63,684.61 L552.15,685.51 L552.66,686.43 L553.18,687.39 L553.70,688.39 L554.21,689.41 L554.73,690.46 L555.25,691.53 L555.77,692.60 L556.28,693.67 L556.80,694.74 L557.32,695.80 L557.84,696.85 L558.35,697.86 L558.87,698.85 L559.39,699.80 L559.90,700.72 L560.42,701.64 L560.94,702.57 L561.46,703.49 L561.97,704.40 L562.49,705.29 L563.01,706.17 L563.53,707.01 L564.04,707.83 L564.56,708.61 L565.08,709.35 L565.59,710.04 L566.11,710.68 L566.63,711.27 L567.15,711.84 L567.66,712.38 L568.18,712.91 L568.70,713.41 L569.22,713.90 L569.73,714.37 L570.25,714.82 L570.77,715.27 L571.28,715.70 L571.80,716.11 L572.32,716.52 L572.84,716.92 L573.35,717.31 L573.87,717.69 L574.39,718.07 L574.91,718.45 L575.42,718.82 L575.94,719.19 L576.46,719.56 L576.98,719.94 L577.49,720.31 L578.01,720.69 L578.53,721.06 L579.04,721.43 L579.56,721.79 L580.08,722.15 L580.60,722.49 L581.11,722.83 L581.63,723.16 L582.15,723.48 L582.67,723.79 L583.18,724.08 L583.70,724.36 L584.22,724.62 L584.73,724.86 L585.25,725.08 L585.77,725.29 L586.29,725.47 L586.80,725.63 L587.32,725.78 L587.84,725.93 L588.36,726.07 L588.87,726.22 L589.39,726.36 L589.91,726.49 L590.42,726.63 L590.94,726.76 L591.46,726.89 L591.98,727.01 L592.49,727.14 L593.01,727.26 L593.53,727.37 L594.05,727.49 L594.56,727.60 L595.08,727.71 L595.60,727.81 L596.12,727.92 L596.63,728.02 L597.15,728.12 L597.67,728.21 L598.18,728.31 L598.70,728.40 L599.22,728.49 L599.74,728.57 L600.25,728.65 L600.77,728.73 L601.29,728.81 L601.81,728.89 L602.32,728.96 L602.84,729.03 L603.36,729.10 L603.87,729.16 L604.39,729.22 L604.91,729.28 L605.43,729.34 L605.94,729.40 L606.46,729.45 L606.98,729.50 L607.50,729.55 L608.01,729.59 L608.53,729.63 L609.05,729.67 L609.56,729.71 L610.08,729.75 L610.60,729.79 L611.12,729.82 L611.63,729.86 L612.15,729.90 L612.67,729.93 L613.19,729.97 L613.70,730.00 L614.22,730.04 L614.74,730.07 L615.25,730.11 L615.77,730.14 L616.29,730.18 L616.81,730.21 L617.32,730.24 L617.84,730.28 L618.36,730.31 L618.88,730.34 L619.39,730.37 L619.91,730.40 L620.43,730.44 L620.95,730.47 L621.46,730.50 L621.98,730.53 L622.50,730.56 L623.01,730.59 L623.53,730.62 L624.05,730.65 L624.57,730.67 L625.08,730.70 L625.60,730.73 L626.12,730.76 L626.64,730.78 L627.15,730.81 L627.67,730.84 L628.19,730.86 L628.70,730.89 L629.22,730.91 L629.74,730.94 L630.26,730.96 L630.77,730.98 L631.29,731.01 L631.81,731.03 L632.33,731.05 L632.84,731.07 L633.36,731.09 L633.88,731.11 L634.39,731.13 L634.91,731.15 L635.43,731.17 L635.95,731.19 L636.46,731.21 L636.98,731.23 L637.50,731.24 L638.02,731.26 L638.53,731.28 L639.05,731.29 L639.57,731.31 L640.08,731.32 L640.60,731.34 L641.12,731.35 L641.64,731.36 L642.15,731.38 L642.67,731.39 L643.19,731.40 L643.71,731.41 L644.22,731.42 L644.74,731.43 L645.26,731.44 L645.78,731.45 L646.29,731.45 L646.81,731.46 L647.33,731.47 L647.84,731.47 L648.36,731.48 L648.88,731.48 L649.40,731.49 L649.91,731.49 L650.43,731.49 L650.95,731.50 L651.47,731.50 L651.98,731.50 L652.50,731.50" fill="none" stroke="#f81812" stroke-width="1.4" stroke-linejoin="round" />
<path d="M446.10,731.40 L446.62,731.40 L447.13,731.40 L447.65,731.40 L448.17,731.40 L448.69,731.40 L449.20,731.40 L449.72,731.40 L450.24,731.40 L450.76,731.40 L451.27,731.40 L451.79,731.40 L452.31,731.40 L452.82,731.40 L453.34,731.40 L453.86,731.40 L454.38,731.40 L454.89,731.40 L455.41,731.40 L455.93,731.40 L456.45,731.40 L456.96,731.40 L457.48,731.40 L458.00,731.40 L458.52,731.40 L459.03,731.40 L459.55,731.40 L460.07,731.40 L460.58,731.40 L461.10,731.40 L461.62,731.40 L462.14,731.40 L462.65,731.40 L463.17,731.40 L463.69,731.40 L464.21,731.40 L464.72,731.40 L465.24,731.40 L465.76,731.40 L466.27,731.40 L466.79,731.40 L467.31,731.40 L467.83,731.40 L468.34,731.40 L468.86,731.40 L469.38,731.40 L469.90,731.40 L470.41,731.40 L470.93,731.40 L471.45,731.40 L471.96,731.40 L472.48,731.40 L473.00,731.40 L473.52,731.40 L474.03,731.40 L474.55,731.40 L475.07,731.40 L475.59,731.40 L476.10,731.40 L476.62,731.40 L477.14,731.40 L477.65,731.40 L478.17,731.40 L478.69,731.40 L479.21,731.40 L479.72,731.40 L480.24,731.40 L480.76,731.40 L481.28,731.40 L481.79,731.40 L482.31,731.40 L482.83,731.40 L483.35,731.40 L483.86,731.40 L484.38,731.40 L484.90,731.40 L485.41,731.40 L485.93,731.40 L486.45,731.40 L486.97,731.40 L487.48,731.40 L488.00,731.40 L488.52,731.40 L489.04,731.40 L489.55,731.40 L490.07,731.40 L490.59,731.40 L491.10,731.40 L491.62,731.40 L492.14,731.40 L492.66,731.40 L493.17,731.40 L493.69,731.40 L494.21,731.40 L494.73,731.40 L495.24,731.40 L495.76,731.40 L496.28,731.40 L496.79,731.40 L497.31,731.40 L497.83,731.40 L498.35,731.40 L498.86,731.40 L499.38,731.40 L499.90,731.40 L500.42,731.40 L500.93,731.40 L501.45,731.40 L501.97,731.40 L502.48,731.40 L503.00,731.40 L503.52,731.40 L504.04,731.40 L504.55,731.40 L505.07,731.40 L505.59,731.40 L506.11,731.40 L506.62,731.40 L507.14,731.40 L507.66,731.40 L508.18,731.40 L508.69,731.40 L509.21,731.40 L509.73,731.40 L510.24,731.40 L510.76,731.40 L511.28,731.40 L511.80,731.40 L512.31,731.40 L512.83,731.40 L513.35,731.40 L513.87,731.40 L514.38,731.40 L514.90,731.39 L515.42,731.39 L515.93,731.39 L516.45,731.38 L516.97,731.38 L517.49,731.37 L518.00,731.36 L518.52,731.35 L519.04,731.34 L519.56,731.32 L520.07,731.30 L520.59,731.27 L521.11,731.23 L521.62,731.18 L522.14,731.12 L522.66,731.05 L523.18,730.96 L523.69,730.85 L524.21,730.72 L524.73,730.55 L525.25,730.35 L525.76,730.12 L526.28,729.83 L526.80,729.49 L527.32,729.09 L527.83,728.62 L528.35,728.06 L528.87,727.41 L529.38,726.66 L529.90,725.80 L530.42,724.80 L530.94,723.67 L531.45,722.38 L531.97,720.92 L532.49,719.29 L533.01,717.47 L533.52,715.44 L534.04,713.21 L534.56,710.76 L535.07,708.09 L535.59,705.20 L536.11,702.08 L536.63,698.75 L537.14,695.20 L537.66,691.46 L538.18,687.52 L538.70,683.43 L539.21,679.20 L539.73,674.85 L540.25,670.42 L540.76,665.96 L541.28,661.49 L541.80,657.06 L542.32,652.71 L542.83,648.50 L543.35,644.46 L543.87,640.65 L544.39,637.11 L544.90,633.89 L545.42,631.02 L545.94,628.54 L546.45,626.49 L546.97,624.90 L547.49,623.78 L548.01,623.15 L548.52,623.01 L549.04,623.39 L549.56,624.25 L550.08,625.60 L550.59,627.42 L551.11,629.68 L551.63,632.35 L552.15,635.39 L552.66,638.78 L553.18,642.45 L553.70,646.38 L554.21,650.50 L554.73,654.78 L555.25,659.18 L555.77,663.63 L556.28,668.10 L556.80,672.55 L557.32,676.95 L557.84,681.24 L558.35,685.41 L558.87,689.43 L559.39,693.28 L559.90,696.93 L560.42,700.38 L560.94,703.61 L561.46,706.62 L561.97,709.40 L562.49,711.97 L563.01,714.31 L563.53,716.44 L564.04,718.37 L564.56,720.10 L565.08,721.64 L565.59,723.01 L566.11,724.23 L566.63,725.29 L567.15,726.23 L567.66,727.04 L568.18,727.74 L568.70,728.34 L569.22,728.85 L569.73,729.29 L570.25,729.66 L570.77,729.97 L571.28,730.24 L571.80,730.45 L572.32,730.63 L572.84,730.78 L573.35,730.91 L573.87,731.01 L574.39,731.09 L574.91,731.15 L575.42,731.21 L575.94,731.25 L576.46,731.28 L576.98,731.31 L577.49,731.33 L578.01,731.35 L578.53,731.36 L579.04,731.37 L579.56,731.38 L580.08,731.38 L580.60,731.39 L581.11,731.39 L581.63,731.39 L582.15,731.39 L582.67,731.40 L583.18,731.40 L583.70,731.40 L584.22,731.40 L584.73,731.40 L585.25,731.40 L585.77,731.40 L586.29,731.40 L586.80,731.40 L587.32,731.40 L587.84,731.40 L588.36,731.40 L588.87,731.40 L589.39,731.40 L589.91,731.40 L590.42,731.40 L590.94,731.40 L591.46,731.40 L591.98,731.40 L592.49,731.40 L593.01,731.40 L593.53,731.40 L594.05,731.40 L594.56,731.40 L595.08,731.40 L595.60,731.40 L596.12,731.40 L596.63,731.40 L597.15,731.40 L597.67,731.40 L598.18,731.40 L598.70,731.40 L599.22,731.40 L599.74,731.40 L600.25,731.40 L600.77,731.40 L601.29,731.40 L601.81,731.40 L602.32,731.40 L602.84,731.40 L603.36,731.40 L603.87,731.40 L604.39,731.40 L604.91,731.40 L605.43,731.40 L605.94,731.40 L606.46,731.40 L606.98,731.40 L607.50,731.40 L608.01,731.40 L608.53,731.40 L609.05,731.40 L609.56,731.40 L610.08,731.40 L610.60,731.40 L611.12,731.40 L611.63,731.40 L612.15,731.40 L612.67,731.40 L613.19,731.40 L613.70,731.40 L614.22,731.40 L614.74,731.40 L615.25,731.40 L615.77,731.40 L616.29,731.40 L616.81,731.40 L617.32,731.40 L617.84,731.40 L618.36,731.40 L618.88,731.40 L619.39,731.40 L619.91,731.40 L620.43,731.40 L620.95,731.40 L621.46,731.40 L621.98,731.40 L622.50,731.40 L623.01,731.40 L623.53,731.40 L624.05,731.40 L624.57,731.40 L625.08,731.40 L625.60,731.40 L626.12,731.40 L626.64,731.40 L627.15,731.40 L627.67,731.40 L628.19,731.40 L628.70,731.40 L629.22,731.40 L629.74,731.40 L630.26,731.40 L630.77,731.40 L631.29,731.40 L631.81,731.40 L632.33,731.40 L632.84,731.40 L633.36,731.40 L633.88,731.40 L634.39,731.40 L634.91,731.40 L635.43,731.40 L635.95,731.40 L636.46,731.40 L636.98,731.40 L637.50,731.40 L638.02,731.40 L638.53,731.40 L639.05,731.40 L639.57,731.40 L640.08,731.40 L640.60,731.40 L641.12,731.40 L641.64,731.40 L642.15,731.40 L642.67,731.40 L643.19,731.40 L643.71,731.40 L644.22,731.40 L644.74,731.40 L645.26,731.40 L645.78,731.40 L646.29,731.40 L646.81,731.40 L647.33,731.40 L647.84,731.40 L648.36,731.40 L648.88,731.40 L649.40,731.40 L649.91,731.40 L650.43,731.40 L650.95,731.40 L651.47,731.40 L651.98,731.40 L652.50,731.40" fill="none" stroke="#f81812" stroke-width="1.4" stroke-linejoin="round" />
<path d="M446.10,724.30 L446.62,723.94 L447.13,723.57 L447.65,723.19 L448.17,722.81 L448.69,722.41 L449.20,722.01 L449.72,721.60 L450.24,721.18 L450.76,720.75 L451.27,720.31 L451.79,719.87 L452.31,719.41 L452.82,718.96 L453.34,718.49 L453.86,718.02 L454.38,717.53 L454.89,717.04 L455.41,716.54 L455.93,716.02 L456.45,715.49 L456.96,714.95 L457.48,714.40 L458.00,713.84 L458.52,713.28 L459.03,712.70 L459.55,712.12 L460.07,711.53 L460.58,710.94 L461.10,710.34 L461.62,709.74 L462.14,709.14 L462.65,708.53 L463.17,707.92 L463.69,707.31 L464.21,706.70 L464.72,706.09 L465.24,705.47 L465.76,704.85 L466.27,704.22 L466.79,703.58 L467.31,702.94 L467.83,702.29 L468.34,701.63 L468.86,700.96 L469.38,700.28 L469.90,699.59 L470.41,698.89 L470.93,698.18 L471.45,697.45 L471.96,696.71 L472.48,695.96 L473.00,695.20 L473.52,694.42 L474.03,693.63 L474.55,692.83 L475.07,692.01 L475.59,691.17 L476.10,690.32 L476.62,689.45 L477.14,688.56 L477.65,687.66 L478.17,686.73 L478.69,685.76 L479.21,684.77 L479.72,683.74 L480.24,682.69 L480.76,681.63 L481.28,680.54 L481.79,679.45 L482.31,678.34 L482.83,677.24 L483.35,676.13 L483.86,675.02 L484.38,673.88 L484.90,672.72 L485.41,671.54 L485.93,670.35 L486.45,669.16 L486.97,667.97 L487.48,666.79 L488.00,665.62 L488.52,664.47 L489.04,663.35 L489.55,662.25 L490.07,661.16 L490.59,660.07 L491.10,658.98 L491.62,657.91 L492.14,656.84 L492.66,655.80 L493.17,654.77 L493.69,653.76 L494.21,652.78 L494.73,651.82 L495.24,650.90 L495.76,650.00 L496.28,649.10 L496.79,648.20 L497.31,647.32 L497.83,646.44 L498.35,645.59 L498.86,644.75 L499.38,643.94 L499.90,643.16 L500.42,642.41 L500.93,641.70 L501.45,641.02 L501.97,640.38 L502.48,639.79 L503.00,639.21 L503.52,638.63 L504.04,638.05 L504.55,637.49 L505.07,636.95 L505.59,636.43 L506.11,635.93 L506.62,635.47 L507.14,635.05 L507.66,634.67 L508.18,634.34 L508.69,634.06 L509.21,633.83 L509.73,633.65 L510.24,633.48 L510.76,633.31 L511.28,633.15 L511.80,633.01 L512.31,632.88 L512.83,632.77 L513.35,632.69 L513.87,632.63 L514.38,632.60 L514.90,632.60 L515.42,632.66 L515.93,632.77 L516.45,632.92 L516.97,633.10 L517.49,633.32 L518.00,633.55 L518.52,633.81 L519.04,634.07 L519.56,634.33 L520.07,634.59 L520.59,634.90 L521.11,635.27 L521.62,635.68 L522.14,636.11 L522.66,636.57 L523.18,637.04 L523.69,637.50 L524.21,637.94 L524.73,638.35 L525.25,638.71 L525.76,639.03 L526.28,639.32 L526.80,639.56 L527.32,639.76 L527.83,639.90 L528.35,639.98 L528.87,639.99 L529.38,639.92 L529.90,639.76 L530.42,639.50 L530.94,639.15 L531.45,638.69 L531.97,638.09 L532.49,637.34 L533.01,636.42 L533.52,635.31 L534.04,634.00 L534.56,632.47 L535.07,630.73 L535.59,628.78 L536.11,626.64 L536.63,624.29 L537.14,621.73 L537.66,618.99 L538.18,616.07 L538.70,612.99 L539.21,609.77 L539.73,606.43 L540.25,603.01 L540.76,599.54 L541.28,596.05 L541.80,592.60 L542.32,589.24 L542.83,586.01 L543.35,582.95 L543.87,580.12 L544.39,577.56 L544.90,575.31 L545.42,573.41 L545.94,571.89 L546.45,570.80 L546.97,570.15 L547.49,569.96 L548.01,570.26 L548.52,571.03 L549.04,572.28 L549.56,574.01 L550.08,576.22 L550.59,578.89 L551.11,582.01 L551.63,585.56 L552.15,589.50 L552.66,593.81 L553.18,598.44 L553.70,603.36 L554.21,608.52 L554.73,613.85 L555.25,619.30 L555.77,624.83 L556.28,630.38 L556.80,635.90 L557.32,641.35 L557.84,646.69 L558.35,651.88 L558.87,656.88 L559.39,661.68 L559.90,666.25 L560.42,670.62 L560.94,674.78 L561.46,678.71 L561.97,682.40 L562.49,685.86 L563.01,689.08 L563.53,692.05 L564.04,694.80 L564.56,697.31 L565.08,699.59 L565.59,701.66 L566.11,703.51 L566.63,705.17 L567.15,706.66 L567.66,708.02 L568.18,709.24 L568.70,710.35 L569.22,711.35 L569.73,712.26 L570.25,713.09 L570.77,713.84 L571.28,714.53 L571.80,715.17 L572.32,715.76 L572.84,716.30 L573.35,716.82 L573.87,717.30 L574.39,717.76 L574.91,718.20 L575.42,718.62 L575.94,719.04 L576.46,719.44 L576.98,719.85 L577.49,720.24 L578.01,720.63 L578.53,721.02 L579.04,721.40 L579.56,721.77 L580.08,722.13 L580.60,722.48 L581.11,722.82 L581.63,723.16 L582.15,723.48 L582.67,723.78 L583.18,724.08 L583.70,724.35 L584.22,724.62 L584.73,724.86 L585.25,725.08 L585.77,725.29 L586.29,725.47 L586.80,725.63 L587.32,725.78 L587.84,725.93 L588.36,726.07 L588.87,726.22 L589.39,726.36 L589.91,726.49 L590.42,726.63 L590.94,726.76 L591.46,726.89 L591.98,727.01 L592.49,727.14 L593.01,727.26 L593.53,727.37 L594.05,727.49 L594.56,727.60 L595.08,727.71 L595.60,727.81 L596.12,727.92 L596.63,728.02 L597.15,728.12 L597.67,728.21 L598.18,728.31 L598.70,728.40 L599.22,728.49 L599.74,728.57 L600.25,728.65 L600.77,728.73 L601.29,728.81 L601.81,728.89 L602.32,728.96 L602.84,729.03 L603.36,729.10 L603.87,729.16 L604.39,729.22 L604.91,729.28 L605.43,729.34 L605.94,729.40 L606.46,729.45 L606.98,729.50 L607.50,729.55 L608.01,729.59 L608.53,729.63 L609.05,729.67 L609.56,729.71 L610.08,729.75 L610.60,729.79 L611.12,729.82 L611.63,729.86 L612.15,729.90 L612.67,729.93 L613.19,729.97 L613.70,730.00 L614.22,730.04 L614.74,730.07 L615.25,730.11 L615.77,730.14 L616.29,730.18 L616.81,730.21 L617.32,730.24 L617.84,730.28 L618.36,730.31 L618.88,730.34 L619.39,730.37 L619.91,730.40 L620.43,730.44 L620.95,730.47 L621.46,730.50 L621.98,730.53 L622.50,730.56 L623.01,730.59 L623.53,730.62 L624.05,730.65 L624.57,730.67 L625.08,730.70 L625.60,730.73 L626.12,730.76 L626.64,730.78 L627.15,730.81 L627.67,730.84 L628.19,730.86 L628.70,730.89 L629.22,730.91 L629.74,730.94 L630.26,730.96 L630.77,730.98 L631.29,731.01 L631.81,731.03 L632.33,731.05 L632.84,731.07 L633.36,731.09 L633.88,731.11 L634.39,731.13 L634.91,731.15 L635.43,731.17 L635.95,731.19 L636.46,731.21 L636.98,731.23 L637.50,731.24 L638.02,731.26 L638.53,731.28 L639.05,731.29 L639.57,731.31 L640.08,731.32 L640.60,731.34 L641.12,731.35 L641.64,731.36 L642.15,731.38 L642.67,731.39 L643.19,731.40 L643.71,731.41 L644.22,731.42 L644.74,731.43 L645.26,731.44 L645.78,731.45 L646.29,731.45 L646.81,731.46 L647.33,731.47 L647.84,731.47 L648.36,731.48 L648.88,731.48 L649.40,731.49 L649.91,731.49 L650.43,731.49 L650.95,731.50 L651.47,731.50 L651.98,731.50 L652.50,731.50" fill="none" stroke="#1212f6" stroke-width="1.5" stroke-linejoin="round" />
<path d="M509.4,561.3 L509.4,734.8" stroke="#222" stroke-width="1.5" stroke-dasharray="7.8 6.4" stroke-dashoffset="3.4" fill="none"/>
<path d="M549.0,560.2 L549.0,733.5" stroke="#222" stroke-width="1.5" stroke-dasharray="7.8 6.4" stroke-dashoffset="4.4" fill="none"/>
<text x="498.5" y="747.2" font-size="14" font-style="italic">D</text>
<text x="508.6" y="752.2" font-size="8.2">slow</text>
<text x="542.0" y="747.2" font-size="14" font-style="italic">D</text>
<text x="552.0" y="752.2" font-size="8.2">fast</text>
</svg></body></html>
